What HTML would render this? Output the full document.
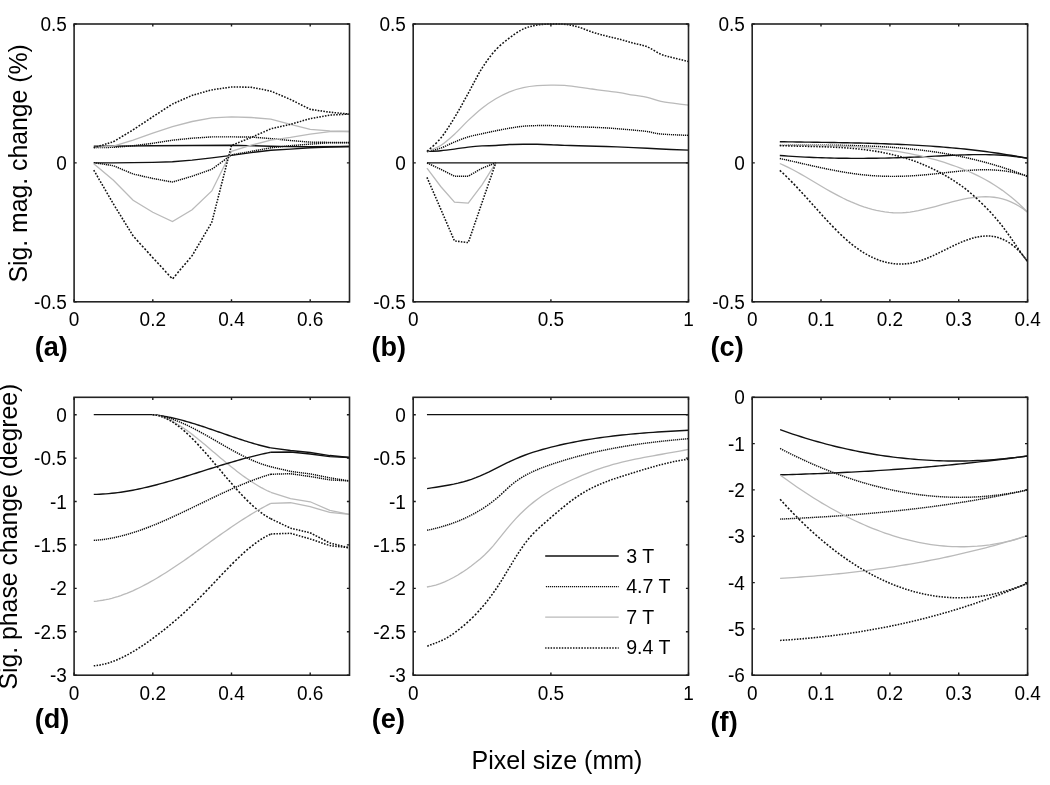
<!DOCTYPE html><html><head><meta charset="utf-8"><style>html,body{margin:0;padding:0;background:#fff;width:1050px;height:785px;overflow:hidden}svg{display:block;will-change:transform}text{font-family:"Liberation Sans",sans-serif;fill:#000}</style></head><body>
<svg width="1050" height="785" viewBox="0 0 1050 785">
<path d="M93.77 146.23L113.44 146.09L152.79 145.79L192.13 145.45L231.47 145.20L270.81 146.23L290.49 146.65L310.16 146.79L349.50 146.51" style="stroke:#111;stroke-width:1.4;fill:none"/>
<path d="M93.77 147.62L94.95 147.60M95.74 147.59L97.02 147.58M97.80 147.56L98.98 147.55M99.77 147.54L100.95 147.52M101.74 147.51L103.02 147.49M103.80 147.48L104.98 147.46M105.77 147.45L106.95 147.43M107.74 147.42L109.02 147.41M109.80 147.39L110.98 147.38M111.77 147.37L112.95 147.35M113.74 147.32L115.02 147.22M115.80 147.16L116.98 147.06M117.77 147.00L118.95 146.91M119.74 146.85L121.02 146.74M121.80 146.68L122.98 146.59M123.77 146.53L124.95 146.43M125.74 146.37L127.02 146.27M127.80 146.21L128.98 146.11M129.77 146.05L130.95 145.96M131.74 145.90L133.02 145.80M133.80 145.70L134.98 145.55M135.77 145.45L136.95 145.30M137.74 145.20L139.02 145.04M139.80 144.94L140.98 144.79M141.77 144.69L142.95 144.54M143.74 144.44L145.02 144.27M145.80 144.17L146.98 144.02M147.77 143.92L148.95 143.77M149.74 143.67L151.02 143.51M151.80 143.41L152.98 143.26M153.77 143.13L154.95 142.95M155.74 142.82L157.02 142.62M157.80 142.50L158.98 142.32M159.77 142.19L160.95 142.01M161.74 141.88L163.01 141.68M163.80 141.56L164.98 141.38M165.77 141.25L166.95 141.07M167.74 140.94L169.01 140.74M169.80 140.62L170.98 140.44M171.77 140.31L172.95 140.15M173.74 140.07L175.01 139.94M175.80 139.86L176.98 139.74M177.77 139.66L178.95 139.54M179.74 139.46L181.01 139.33M181.80 139.25L182.98 139.13M183.77 139.05L184.95 138.93M185.74 138.85L187.01 138.72M187.80 138.64L188.98 138.52M189.77 138.44L190.95 138.32M191.74 138.24L193.01 138.14M193.80 138.09L194.98 138.01M195.77 137.96L196.95 137.88M197.73 137.83L199.01 137.75M199.80 137.69L200.98 137.62M201.77 137.56L202.95 137.49M203.73 137.43L205.01 137.35M205.80 137.30L206.98 137.22M207.77 137.17L208.95 137.09M209.73 137.04L211.01 136.95M211.80 136.90L212.98 136.89M213.77 136.89L214.95 136.89M215.73 136.89L217.01 136.88M217.80 136.88L218.98 136.88M219.77 136.88L220.95 136.87M221.73 136.87L223.01 136.87M223.80 136.86L224.98 136.86M225.77 136.86L226.95 136.86M227.73 136.85L229.01 136.85M229.80 136.85L230.98 136.84M231.77 136.85L232.95 136.86M233.73 136.87L235.01 136.89M235.80 136.90L236.98 136.91M237.77 136.92L238.95 136.94M239.73 136.95L241.01 136.96M241.80 136.97L242.98 136.99M243.77 137.00L244.95 137.01M245.73 137.02L247.01 137.04M247.80 137.05L248.98 137.06M249.77 137.07L250.95 137.09M251.73 137.14L253.01 137.23M253.80 137.29L254.98 137.38M255.77 137.44L256.95 137.53M257.73 137.59L259.01 137.69M259.80 137.75L260.98 137.84M261.77 137.90L262.95 137.99M263.73 138.05L265.01 138.15M265.80 138.21L266.98 138.30M267.77 138.36L268.95 138.45M269.73 138.51L271.01 138.61M271.80 138.69L272.98 138.80M273.76 138.88L274.95 139.00M275.73 139.07L277.01 139.20M277.80 139.27L278.98 139.39M279.76 139.46L280.95 139.58M281.73 139.66L283.01 139.78M283.80 139.86L284.98 139.97M285.76 140.05L286.94 140.16M287.73 140.24L289.01 140.37M289.80 140.44L290.98 140.55M291.76 140.61L292.94 140.71M293.73 140.78L295.01 140.88M295.80 140.94L296.98 141.04M297.76 141.11L298.94 141.20M299.73 141.27L301.01 141.37M301.80 141.44L302.98 141.53M303.76 141.60L304.94 141.69M305.73 141.76L307.01 141.86M307.80 141.93L308.98 142.02M309.76 142.09L310.94 142.13M311.73 142.14L313.01 142.16M313.80 142.17L314.98 142.19M315.76 142.20L316.94 142.22M317.73 142.23L319.01 142.25M319.80 142.26L320.98 142.27M321.76 142.28L322.94 142.30M323.73 142.31L325.01 142.33M325.80 142.34L326.98 142.36M327.76 142.37L328.94 142.39M329.73 142.40L331.01 142.41M331.80 142.42L332.98 142.43M333.76 142.44L334.94 142.45M335.73 142.46L337.01 142.47M337.80 142.48L338.98 142.49M339.76 142.50L340.94 142.51M341.73 142.52L343.01 142.53M343.80 142.54L344.98 142.55M345.76 142.56L346.94 142.57M347.73 142.58L349.01 142.59" style="stroke:#111;stroke-width:1.45;fill:none"/>
<path d="M93.77 147.34L113.44 146.23L133.11 140.12L152.79 133.18L172.46 126.51L192.13 121.51L211.80 117.90L231.47 116.92L251.14 117.51L270.81 119.20L290.49 124.26L310.16 129.40L329.83 130.90L349.50 131.51" style="stroke:#bababa;stroke-width:1.3;fill:none"/>
<path d="M93.77 147.79L95.27 147.32M96.58 146.92L98.08 146.46M99.39 146.05L100.89 145.59M102.20 145.18L103.70 144.72M105.01 144.31L106.51 143.85M107.73 143.47L109.23 143.01M110.54 142.60L112.04 142.14M113.35 141.73L114.90 140.83M116.18 140.05L117.63 139.18M119.00 138.35L120.46 137.47M121.74 136.70L123.28 135.77M124.56 135.00L126.10 134.07M127.38 133.30L128.84 132.42M130.21 131.60L131.66 130.72M132.94 129.94L134.51 128.92M135.74 128.10L137.29 127.07M138.61 126.20L140.08 125.22M141.39 124.35L142.87 123.37M144.18 122.50L145.65 121.52M146.97 120.65L148.44 119.67M149.75 118.80L151.31 117.76M152.54 116.95L154.04 115.97M155.38 115.10L156.89 114.12M158.14 113.31L159.65 112.33M160.99 111.46L162.50 110.48M163.75 109.66L165.26 108.68M166.60 107.81L168.10 106.83M169.36 106.02L170.87 105.04M172.21 104.17L173.65 103.49M174.93 102.92L176.48 102.24M177.76 101.68L179.23 101.04M180.60 100.44L182.06 99.80M183.35 99.24L184.90 98.56M186.18 98.00L187.65 97.36M188.93 96.80L190.48 96.12M191.76 95.55L193.28 95.07M194.53 94.72L196.06 94.28M197.41 93.90L198.85 93.50M200.19 93.12L201.63 92.71M202.97 92.33L204.51 91.90M205.75 91.55L207.29 91.11M208.54 90.76L210.07 90.33M211.42 89.95L212.88 89.68M214.16 89.50L215.64 89.29M217.01 89.09L218.49 88.88M219.77 88.69L221.24 88.48M222.62 88.28L224.09 88.07M225.37 87.88L226.85 87.67M228.13 87.49L229.70 87.26M230.98 87.08L232.45 87.01M233.73 87.03L235.31 87.04M236.59 87.06L238.06 87.07M239.34 87.08L240.91 87.10M242.19 87.11L243.67 87.13M244.95 87.14L246.52 87.15M247.80 87.17L249.27 87.18M250.55 87.19L252.10 87.39M253.35 87.64L254.89 87.94M256.13 88.19L257.67 88.49M259.01 88.76L260.45 89.04M261.79 89.31L263.23 89.59M264.58 89.86L266.11 90.16M267.36 90.41L268.90 90.71M270.14 90.96L271.64 91.44M273.01 92.02L274.47 92.64M275.76 93.19L277.31 93.85M278.59 94.39L280.06 95.02M281.34 95.56L282.89 96.22M284.17 96.77L285.64 97.39M287.01 97.97L288.47 98.59M289.75 99.14L291.27 99.85M292.58 100.51L294.07 101.25M295.38 101.91L296.87 102.66M298.18 103.32L299.67 104.07M300.98 104.72L302.46 105.47M303.77 106.13L305.26 106.88M306.57 107.54L308.06 108.29M309.37 108.94L310.85 109.44M312.12 109.63L313.70 109.86M314.98 110.04L316.45 110.26M317.73 110.44L319.30 110.67M320.58 110.86L322.06 111.07M323.34 111.26L324.91 111.49M326.19 111.67L327.66 111.89M328.94 112.07L330.52 112.27M331.80 112.39L333.27 112.53M334.55 112.65L336.03 112.80M337.40 112.93L338.88 113.07M340.16 113.19L341.63 113.33M343.01 113.47L344.48 113.61M345.76 113.73L347.24 113.87M348.61 114.01L349.50 114.09" style="stroke:#111;stroke-width:1.55;fill:none"/>
<path d="M93.77 162.90L113.44 162.90L133.11 162.62L152.79 162.34L172.46 161.79L192.13 160.12L211.80 157.90L231.47 155.40L251.14 152.62L270.81 150.29L290.49 149.09L310.16 147.82L329.83 147.07L349.50 146.51" style="stroke:#111;stroke-width:1.4;fill:none"/>
<path d="M93.77 162.62L94.95 162.81M95.74 162.93L97.02 163.13M97.80 163.25L98.98 163.43M99.77 163.55L100.95 163.74M101.74 163.86L103.02 164.06M103.80 164.18L104.98 164.36M105.77 164.49L106.95 164.67M107.74 164.79L109.02 164.99M109.80 165.11L110.98 165.30M111.77 165.42L112.95 165.60M113.81 165.83L115.00 166.34M115.73 166.65L117.01 167.19M117.74 167.50L118.93 168.00M119.76 168.35L120.95 168.86M121.77 169.21L122.96 169.71M123.78 170.06L124.97 170.56M125.79 170.91L126.98 171.41M127.81 171.76L129.00 172.27M129.73 172.58L131.01 173.12M131.74 173.43L132.93 173.93M133.79 174.16L134.94 174.42M135.80 174.62L136.95 174.88M137.82 175.07L138.97 175.33M139.74 175.51L140.98 175.79M141.75 175.96L143.00 176.25M143.77 176.42L145.01 176.70M145.78 176.87L146.93 177.13M147.80 177.33L148.95 177.59M149.81 177.78L150.96 178.04M151.73 178.22L152.98 178.49M153.75 178.63L154.99 178.86M155.76 179.00L157.01 179.23M157.78 179.37L158.93 179.58M159.79 179.74L160.94 179.95M161.81 180.11L162.96 180.32M163.72 180.47L164.97 180.69M165.74 180.84L166.99 181.06M167.76 181.20L169.00 181.43M169.77 181.57L171.02 181.80M171.79 181.94L172.93 181.93M173.77 181.68L174.99 181.32M175.74 181.10L176.95 180.73M177.80 180.48L179.01 180.12M179.76 179.90L180.98 179.54M181.73 179.32L182.95 178.96M183.79 178.71L185.01 178.35M185.76 178.12L186.98 177.76M187.73 177.54L188.94 177.18M189.79 176.93L191.00 176.57M191.75 176.35L192.97 175.94M193.81 175.64L194.94 175.24M195.78 174.94L197.00 174.51M197.75 174.25L198.97 173.82M199.81 173.52L200.93 173.13M201.78 172.83L202.99 172.40M203.74 172.13L204.96 171.70M205.80 171.41L206.93 171.01M207.77 170.71L208.99 170.28M209.74 170.02L210.96 169.59M211.80 169.29L213.00 168.41M213.81 167.82L214.93 167.00M215.73 166.41L216.94 165.53M217.74 164.94L218.95 164.06M219.75 163.47L220.95 162.59M221.76 162.01L222.96 161.13M223.76 160.54L224.97 159.66M225.77 159.07L226.98 158.19M227.78 157.60L228.98 156.72M229.79 156.13L230.99 155.25M231.77 154.85L232.95 154.64M233.73 154.50L235.01 154.27M235.80 154.13L236.98 153.92M237.77 153.78L238.95 153.57M239.73 153.43L241.01 153.20M241.80 153.06L242.98 152.85M243.77 152.71L244.95 152.50M245.73 152.36L247.01 152.13M247.80 151.99L248.98 151.78M249.77 151.64L250.95 151.43M251.81 151.28L252.97 151.06M253.73 150.92L254.98 150.69M255.75 150.55L257.00 150.32M257.76 150.18L259.01 149.95M259.78 149.81L260.93 149.60M261.79 149.44L262.95 149.23M263.81 149.07L264.96 148.86M265.73 148.72L266.98 148.49M267.74 148.35L268.99 148.12M269.76 147.98L271.01 147.77M271.80 147.68L272.98 147.56M273.76 147.47L274.95 147.34M275.73 147.26L277.01 147.12M277.80 147.04L278.98 146.91M279.76 146.83L280.95 146.70M281.73 146.62L283.01 146.48M283.80 146.39L284.98 146.27M285.76 146.18L286.94 146.06M287.73 145.97L289.01 145.83M289.80 145.75L290.98 145.64M291.76 145.58L292.94 145.48M293.73 145.42L295.01 145.32M295.80 145.26L296.98 145.16M297.76 145.10L298.94 145.01M299.73 144.95L301.01 144.84M301.80 144.78L302.98 144.69M303.76 144.63L304.94 144.53M305.73 144.47L307.01 144.37M307.80 144.31L308.98 144.21M309.76 144.15L310.94 144.07M311.73 144.01L313.01 143.93M313.80 143.87L314.98 143.79M315.76 143.74L316.94 143.66M317.73 143.61L319.01 143.52M319.80 143.47L320.98 143.39M321.76 143.33L322.94 143.25M323.73 143.20L325.01 143.11M325.80 143.06L326.98 142.98M327.76 142.93L328.94 142.85M329.73 142.79L331.01 142.79M331.80 142.79L332.98 142.79M333.76 142.79L334.94 142.79M335.73 142.79L337.01 142.79M337.80 142.79L338.98 142.79M339.76 142.79L340.94 142.79M341.73 142.79L343.01 142.79M343.80 142.79L344.98 142.79M345.76 142.79L346.94 142.79M347.73 142.79L349.01 142.79" style="stroke:#111;stroke-width:1.45;fill:none"/>
<path d="M93.77 163.73L113.44 180.32L133.11 200.26L152.79 212.29L172.46 221.49L192.13 209.79L211.80 190.96L231.47 151.40L251.14 145.20L270.81 140.09L290.49 137.40L310.16 134.06L329.83 131.70L349.50 131.51" style="stroke:#bababa;stroke-width:1.3;fill:none"/>
<path d="M93.77 170.12L94.62 171.58M95.41 172.95L96.26 174.41M97.01 175.70L97.90 177.24M98.65 178.53L99.50 179.99M100.30 181.36L101.14 182.82M101.89 184.11L102.79 185.65M103.53 186.94L104.38 188.40M105.13 189.69L106.02 191.23M106.77 192.52L107.67 194.06M108.41 195.35L109.26 196.81M110.01 198.09L110.90 199.64M111.65 200.93L112.50 202.38M113.29 203.76L114.17 205.19M115.00 206.54L115.93 208.05M116.70 209.31L117.64 210.82M118.41 212.09L119.34 213.60M120.17 214.94L121.10 216.46M121.88 217.72L122.81 219.23M123.59 220.49L124.52 222.01M125.35 223.35L126.28 224.86M127.06 226.13L127.99 227.64M128.77 228.90L129.70 230.41M130.53 231.76L131.41 233.19M132.23 234.53L133.20 236.05M134.36 237.34L135.70 238.81M136.87 240.09L138.28 241.65M139.45 242.94L140.78 244.41M141.95 245.69L143.37 247.25M144.53 248.54L145.87 250.01M147.03 251.29L148.45 252.86M149.62 254.14L150.95 255.61M152.12 256.90L153.54 258.45M154.70 259.71L156.12 261.26M157.29 262.52L158.70 264.07M159.87 265.33L161.20 266.78M162.45 268.14L163.79 269.59M165.04 270.95L166.37 272.40M167.62 273.76L168.96 275.21M170.12 276.48L171.54 278.02M172.70 278.74L173.96 277.23M175.07 275.92L176.34 274.41M177.45 273.09L178.72 271.59M179.75 270.36L181.02 268.86M182.13 267.54L183.40 266.04M184.51 264.72L185.78 263.21M186.89 261.90L188.16 260.39M189.27 259.07L190.46 257.66M191.57 256.34L192.63 254.83M193.39 253.55L194.30 252.01M195.05 250.73L195.96 249.19M196.72 247.91L197.58 246.45M198.38 245.09L199.24 243.63M200.00 242.35L200.91 240.81M201.66 239.53L202.57 237.99M203.33 236.71L204.18 235.26M204.99 233.89L205.85 232.44M206.60 231.15L207.51 229.61M208.27 228.33L209.18 226.79M209.93 225.51L210.79 224.06M211.60 222.69L212.10 221.19M212.42 219.93L212.81 218.38M213.14 217.12L213.53 215.57M213.85 214.32L214.22 212.86M214.57 211.51L214.94 210.06M215.29 208.70L215.66 207.25M216.01 205.89L216.38 204.44M216.72 203.09L217.10 201.64M217.44 200.28L217.81 198.83M218.16 197.47L218.53 196.02M218.85 194.76L219.25 193.21M219.57 191.96L219.97 190.41M220.29 189.15L220.68 187.60M221.00 186.34L221.40 184.79M221.72 183.54L222.12 181.99M222.44 180.73L222.84 179.18M223.16 177.92L223.55 176.37M223.88 175.11L224.25 173.66M224.59 172.31L224.96 170.86M225.31 169.50L225.68 168.05M226.03 166.69L226.40 165.24M226.75 163.89L227.12 162.43M227.46 161.08L227.83 159.63M228.18 158.27L228.55 156.82M228.87 155.56L229.27 154.01M229.59 152.75L229.99 151.21M230.31 149.95L230.70 148.40M231.03 147.14L231.42 145.59M232.57 144.96L234.03 144.37M235.31 143.86L236.87 143.23M238.15 142.72L239.61 142.13M240.99 141.58L242.45 141.00M243.73 140.48L245.29 139.86M246.57 139.34L248.03 138.76M249.31 138.24L250.87 137.62M252.13 137.07L253.65 136.40M254.99 135.81L256.42 135.18M257.76 134.58L259.28 133.91M260.53 133.36L262.05 132.69M263.39 132.09L264.82 131.46M266.16 130.87L267.68 130.20M268.94 129.64L270.46 128.97M271.77 128.60L273.21 128.27M274.56 127.96L276.09 127.61M277.34 127.33L278.87 126.98M280.12 126.70L281.66 126.35M282.91 126.06L284.44 125.72M285.78 125.41L287.22 125.08M288.57 124.78L290.01 124.45M291.33 124.09L292.83 123.65M294.14 123.27L295.64 122.83M296.95 122.44L298.45 122.00M299.76 121.62L301.26 121.18M302.57 120.79L304.07 120.35M305.38 119.97L306.88 119.53M308.19 119.14L309.69 118.70M310.94 118.42L312.42 118.16M313.80 117.92L315.27 117.66M316.55 117.43L318.03 117.17M319.30 116.95L320.88 116.67M322.16 116.44L323.63 116.18M324.91 115.96L326.48 115.68M327.76 115.46L329.24 115.19M330.52 115.06L332.09 114.98M333.37 114.91L334.84 114.84M336.12 114.77L337.70 114.69M338.98 114.63L340.45 114.55M341.73 114.49L343.21 114.41M344.58 114.34L346.06 114.27M347.34 114.20L348.81 114.13" style="stroke:#111;stroke-width:1.55;fill:none"/>
<rect x="74.1" y="24.0" width="275.4" height="277.8" fill="none" stroke="#242424" stroke-width="1.6"/>
<text transform="translate(74.1,326.3) scale(1,1.090)" font-size="19" text-anchor="middle">0</text>
<text transform="translate(152.8,326.3) scale(1,1.090)" font-size="19" text-anchor="middle">0.2</text>
<text transform="translate(231.5,326.3) scale(1,1.090)" font-size="19" text-anchor="middle">0.4</text>
<text transform="translate(310.2,326.3) scale(1,1.090)" font-size="19" text-anchor="middle">0.6</text>
<text transform="translate(66.8,308.8) scale(1,1.090)" font-size="19" text-anchor="end">-0.5</text>
<text transform="translate(66.8,169.9) scale(1,1.090)" font-size="19" text-anchor="end">0</text>
<text transform="translate(66.8,31.0) scale(1,1.090)" font-size="19" text-anchor="end">0.5</text>
<path d="M74.1 301.8v-2.6M74.1 24.0v2.6M152.8 301.8v-2.6M152.8 24.0v2.6M231.5 301.8v-2.6M231.5 24.0v2.6M310.2 301.8v-2.6M310.2 24.0v2.6M74.1 301.8h2.6M349.5 301.8h-2.6M74.1 162.9h2.6M349.5 162.9h-2.6M74.1 24.0h2.6M349.5 24.0h-2.6" stroke="#1c1c1c" stroke-width="1.4" fill="none"/>
<text transform="translate(34.7,356.4) scale(1,1.035)" font-size="27.1" font-weight="bold">(a)</text>
<path d="M426.96 162.90L428.21 163.48M429.01 163.85L430.16 164.38M430.96 164.75L432.20 165.33M433.00 165.70L434.16 166.24M434.96 166.61L436.20 167.19M437.00 167.56L438.15 168.09M438.95 168.46L440.20 169.04M441.00 169.42L442.15 170.01M442.95 170.41L444.19 171.04M444.99 171.44L446.15 172.02M446.95 172.43L448.19 173.05M448.99 173.46L450.14 174.04M450.94 174.44L452.19 175.07M452.99 175.47L454.14 176.06M454.99 176.23L456.17 176.23M456.95 176.23L458.13 176.23M458.92 176.23L460.20 176.23M460.98 176.23L462.16 176.23M462.95 176.23L464.13 176.23M464.92 176.23L466.20 176.23M466.98 176.23L468.16 176.23M468.95 175.83L470.15 175.13M470.93 174.67L472.13 173.97M472.99 173.47L474.20 172.76M474.97 172.31L476.17 171.60M476.95 171.15L478.15 170.44M478.93 169.99L480.13 169.29M480.99 168.78L482.21 168.11M482.94 167.83L484.14 167.37M484.96 167.05L486.15 166.59M486.98 166.28L488.17 165.82M489.00 165.50L490.19 165.05M490.93 164.76L492.12 164.31M492.95 163.99L494.14 163.53M494.96 163.22L495.79 162.90" style="stroke:#111;stroke-width:1.45;fill:none"/>
<path d="M426.96 168.18L440.73 186.51L454.50 202.07L468.26 203.18L482.02 184.85L495.79 162.90" style="stroke:#bababa;stroke-width:1.3;fill:none"/>
<path d="M426.96 177.35L427.63 178.88M428.18 180.15L428.85 181.69M429.40 182.96L430.03 184.40M430.62 185.76L431.25 187.21M431.84 188.57L432.47 190.01M433.06 191.37L433.69 192.82M434.28 194.18L434.91 195.62M435.50 196.98L436.13 198.43M436.72 199.79L437.35 201.23M437.94 202.59L438.57 204.04M439.12 205.30L439.79 206.84M440.34 208.11L441.01 209.65M441.56 210.93L442.22 212.48M442.78 213.76L443.40 215.22M443.99 216.59L444.62 218.05M445.17 219.33L445.84 220.88M446.39 222.16L447.02 223.62M447.61 224.99L448.24 226.45M448.79 227.73L449.46 229.28M450.01 230.56L450.64 232.02M451.23 233.39L451.86 234.85M452.41 236.12L453.08 237.68M453.63 238.95L454.26 240.41M455.28 241.06L456.76 241.24M458.03 241.39L459.61 241.58M460.89 241.74L462.36 241.91M463.64 242.07L465.21 242.26M466.49 242.41L467.97 242.59M468.62 241.59L469.13 240.09M469.59 238.77L470.11 237.26M470.53 236.04L471.05 234.53M471.50 233.22L472.02 231.71M472.47 230.39L472.99 228.89M473.44 227.57L473.93 226.16M474.38 224.84L474.90 223.33M475.35 222.02L475.87 220.51M476.32 219.19L476.84 217.69M477.30 216.37L477.78 214.96M478.24 213.64L478.75 212.13M479.21 210.81L479.73 209.31M480.18 207.99L480.70 206.48M481.15 205.17L481.64 203.75M482.09 202.44L482.61 200.94M483.06 199.63L483.58 198.14M484.03 196.83L484.55 195.33M485.00 194.03L485.52 192.53M485.98 191.22L486.49 189.73M486.95 188.42L487.47 186.92M487.92 185.61L488.44 184.12M488.89 182.81L489.41 181.31M489.86 180.01L490.38 178.51M490.83 177.20L491.35 175.71M491.81 174.40L492.32 172.90M492.78 171.59L493.30 170.10M493.75 168.79L494.27 167.29M494.72 165.98L495.24 164.49M495.69 163.18L495.79 162.90" style="stroke:#111;stroke-width:1.55;fill:none"/>
<path d="M426.96 151.51C429.26 151.38 436.14 151.11 440.73 150.70C445.32 150.30 449.91 149.70 454.50 149.09C459.08 148.49 463.67 147.63 468.26 147.09C472.85 146.56 477.44 146.16 482.02 145.90C486.61 145.64 491.20 145.77 495.79 145.54C500.38 145.31 504.97 144.73 509.56 144.51C514.14 144.29 518.73 144.24 523.32 144.20C527.91 144.17 532.50 144.20 537.09 144.29C541.67 144.37 546.26 144.52 550.85 144.70C555.44 144.89 560.03 145.24 564.62 145.40C569.20 145.56 571.50 145.49 578.38 145.68C585.26 145.86 596.73 146.19 605.91 146.51C615.09 146.83 624.26 147.20 633.44 147.62C642.62 148.04 651.79 148.59 660.97 149.01C670.15 149.43 683.91 149.94 688.50 150.12" style="stroke:#111;stroke-width:1.4;fill:none"/>
<path d="M426.96 151.51L428.16 151.24M429.00 151.05L430.13 150.81M430.99 150.63L432.20 150.36M432.99 150.18L434.16 149.91M434.99 149.71L436.19 149.42M436.92 149.23L438.19 148.88M438.98 148.65L440.15 148.29M441.00 148.00L442.15 147.57M442.95 147.25L444.19 146.73M444.99 146.37L446.15 145.85M446.95 145.47L448.19 144.88M448.99 144.50L450.14 143.95M450.94 143.58L452.19 143.00M452.99 142.65L454.14 142.16M454.95 141.82L456.15 141.34M456.97 141.00L458.17 140.53M458.99 140.20L460.18 139.73M461.01 139.41L462.20 138.96M462.94 138.69L464.13 138.26M464.96 137.97L466.15 137.57M466.98 137.30L468.17 136.93M468.92 136.70L470.16 136.36M470.92 136.16L472.15 135.85M473.01 135.65L474.15 135.39M475.00 135.21L476.14 134.97M476.99 134.79L478.13 134.55M478.99 134.38L480.13 134.14M480.98 133.96L482.12 133.71M482.97 133.52L484.21 133.25M484.97 133.09L486.20 132.82M486.96 132.66L488.20 132.39M488.95 132.23L490.19 131.97M490.95 131.81L492.18 131.55M492.94 131.40L494.18 131.14M494.94 130.99L496.17 130.74M496.93 130.58L498.16 130.33M498.92 130.18L500.16 129.93M501.01 129.76L502.15 129.54M503.00 129.37L504.14 129.15M505.00 128.99L506.14 128.78M506.99 128.62L508.13 128.42M508.99 128.27L510.14 128.08M510.93 127.95L512.21 127.74M513.00 127.61L514.18 127.42M514.96 127.30L516.14 127.12M516.93 127.01L518.21 126.83M518.99 126.72L520.17 126.57M520.96 126.48L522.14 126.35M522.93 126.27L524.20 126.15M524.99 126.09L526.17 126.00M526.96 125.95L528.14 125.88M528.92 125.85L530.20 125.79M530.99 125.76L532.17 125.72M532.96 125.70L534.14 125.66M534.92 125.64L536.20 125.61M536.99 125.59L538.17 125.57M538.95 125.55L540.13 125.54M540.92 125.53L542.20 125.52M542.98 125.51L544.16 125.51M544.95 125.51L546.13 125.52M546.92 125.53L548.20 125.54M548.98 125.55L550.16 125.58M550.95 125.59L552.13 125.63M553.01 125.66L554.19 125.70M554.98 125.74L556.16 125.80M556.95 125.84L558.13 125.90M559.01 125.94L560.19 126.01M560.98 126.05L562.16 126.11M562.94 126.15L564.12 126.21M565.00 126.25L566.20 126.30M566.98 126.33L568.15 126.38M568.97 126.41L570.13 126.46M570.99 126.49L572.16 126.54M572.94 126.57L574.15 126.62M575.00 126.65L576.14 126.70M576.97 126.73L578.20 126.78M578.94 126.81L580.17 126.85M580.99 126.88L582.20 126.93M583.01 126.95L584.20 127.00M584.96 127.02L586.21 127.06M587.00 127.09L588.20 127.13M588.96 127.16L590.16 127.20M590.94 127.23L592.16 127.27M592.95 127.30L594.18 127.34M594.98 127.37L596.13 127.42M596.93 127.45L598.17 127.51M598.97 127.54L600.20 127.60M600.99 127.63L602.20 127.69M602.98 127.73L604.16 127.80M604.92 127.84L606.21 127.92M606.99 127.96L608.16 128.04M608.93 128.09L610.14 128.18M611.01 128.24L612.15 128.32M612.94 128.38L614.18 128.48M614.98 128.54L616.13 128.63M616.93 128.69L618.17 128.79M618.96 128.86L620.19 128.96M620.97 129.03L622.18 129.13M622.94 129.20L624.12 129.30M624.92 129.37L626.19 129.48M626.96 129.55L628.18 129.65M628.99 129.73L630.14 129.83M630.99 129.90L632.20 130.01M632.97 130.08L634.16 130.18M634.94 130.25L636.13 130.35M636.92 130.42L638.20 130.53M638.98 130.60L640.12 130.70M640.92 130.77L642.19 130.90M642.94 130.97L644.17 131.11M644.93 131.20L646.16 131.37M647.01 131.48L648.16 131.66M648.96 131.80L650.16 132.05M650.98 132.23L652.13 132.50M652.97 132.70L654.20 132.98M654.94 133.13L656.12 133.36M656.93 133.50L658.18 133.69M659.00 133.79L660.15 133.93M660.97 134.01L662.15 134.11M662.93 134.17L664.13 134.26M665.00 134.32L666.19 134.39M666.99 134.44L668.17 134.50M669.01 134.55L670.15 134.61M671.01 134.65L672.18 134.70M672.96 134.74L674.13 134.79M675.01 134.83L676.18 134.88M676.95 134.92L678.19 134.97M678.94 135.00L680.14 135.05M680.94 135.08L682.15 135.13M682.94 135.16L684.17 135.21M684.97 135.24L686.18 135.29M686.92 135.33L688.15 135.38" style="stroke:#111;stroke-width:1.45;fill:none"/>
<path d="M426.96 151.51C429.26 150.51 436.14 148.41 440.73 145.54C445.32 142.67 449.91 138.48 454.50 134.29C459.08 130.10 463.67 124.75 468.26 120.40C472.85 116.04 477.44 111.78 482.02 108.17C486.61 104.56 491.20 101.46 495.79 98.73C500.38 96.00 504.97 93.64 509.56 91.78C514.14 89.93 518.73 88.63 523.32 87.62C527.91 86.60 532.50 86.09 537.09 85.67C541.67 85.25 546.26 85.16 550.85 85.12C555.44 85.07 560.03 85.07 564.62 85.39C569.20 85.72 573.79 86.46 578.38 87.06C582.97 87.66 587.56 88.36 592.14 89.01C596.73 89.65 601.32 90.33 605.91 90.95C610.50 91.57 615.09 91.99 619.67 92.70C624.26 93.41 628.85 94.43 633.44 95.20C638.03 95.97 642.62 96.28 647.20 97.31C651.79 98.34 656.38 100.38 660.97 101.40C665.56 102.41 670.15 102.76 674.74 103.40C679.32 104.03 686.21 104.90 688.50 105.20" style="stroke:#bababa;stroke-width:1.3;fill:none"/>
<path d="M426.96 151.51L428.51 150.10M429.76 149.00L431.26 147.68M432.59 146.49L434.07 145.13M435.38 143.89L436.86 142.43M438.16 141.10L439.48 139.65M440.59 138.35L441.76 136.88M442.79 135.52L443.90 134.02M444.79 132.76L445.85 131.23M446.73 129.92L447.72 128.42M448.55 127.15L449.54 125.61M450.37 124.30L451.30 122.80M452.07 121.56L453.01 120.04M453.83 118.70L454.74 117.22M455.51 115.94L456.43 114.39M457.15 113.15L458.02 111.65M458.79 110.29L459.61 108.84M460.34 107.54L461.16 106.07M461.88 104.76L462.71 103.27M463.43 101.95L464.25 100.45M464.98 99.13L465.80 97.63M466.52 96.31L467.34 94.83M468.07 93.52L468.88 92.06M469.59 90.75L470.40 89.26M471.11 87.92L471.91 86.40M472.58 85.14L473.39 83.61M474.05 82.35L474.86 80.83M475.52 79.58L476.33 78.07M477.04 76.75L477.90 75.20M478.61 73.92L479.46 72.42M480.22 71.12L481.14 69.60M481.91 68.36L482.86 66.86M483.76 65.49L484.72 64.06M485.62 62.75L486.69 61.22M487.59 59.97L488.76 58.39M489.73 57.10L490.85 55.67M491.90 54.36L493.17 52.83M494.29 51.52L495.64 50.00M496.81 48.74L498.30 47.23M499.60 45.98L501.09 44.63M502.39 43.51L503.88 42.28M505.18 41.24L506.67 40.08M507.97 39.09L509.46 37.96M510.81 36.95L512.31 35.84M513.56 34.93L515.06 33.87M516.40 32.97L517.90 32.00M519.23 31.18L520.65 30.36M521.99 29.65L523.51 28.91M524.74 28.38L526.26 27.79M527.59 27.33L529.11 26.87M530.34 26.53L531.86 26.16M533.19 25.87L534.71 25.56M535.95 25.32L537.48 25.04M538.76 24.84L540.33 24.63M541.61 24.49L543.08 24.36M544.36 24.27L545.93 24.18M547.21 24.12L548.69 24.07M549.97 24.03L551.54 23.98M552.82 23.94L554.29 23.91M555.57 23.90L557.04 23.89M558.42 23.91L559.90 23.94M561.17 24.00L562.65 24.09M564.03 24.22L565.47 24.38M566.80 24.55L568.32 24.79M569.55 25.00L571.07 25.29M572.40 25.56L573.92 25.90M575.15 26.20L576.67 26.59M578.00 26.95L579.48 27.38M580.77 27.81L582.33 28.36M583.61 28.84L585.08 29.41M586.36 29.92L587.92 30.53M589.21 31.02L590.68 31.56M591.96 32.00L593.47 32.48M594.80 32.89L596.32 33.34M597.56 33.69L599.07 34.12M600.40 34.48L601.92 34.89M603.16 35.22L604.68 35.62M606.00 35.97L607.52 36.36M608.76 36.66L610.28 37.02M611.61 37.34L613.12 37.69M614.36 37.98L615.88 38.33M617.21 38.66L618.73 39.03M619.96 39.35L621.48 39.76M622.81 40.13L624.33 40.56M625.56 40.92L627.08 41.36M628.41 41.74L629.93 42.18M631.16 42.53L632.68 42.96M634.01 43.32L635.53 43.69M636.76 43.97L638.28 44.30M639.61 44.59L641.13 44.93M642.36 45.23L643.88 45.64M645.21 46.05L646.73 46.59M647.98 47.11L649.53 47.86M650.82 48.56L652.28 49.41M653.57 50.20L655.12 51.14M656.41 51.92L657.87 52.76M659.16 53.44L660.71 54.17M662.01 54.69L663.53 55.23M664.77 55.63L666.29 56.07M667.62 56.42L669.13 56.80M670.37 57.10L671.89 57.46M673.22 57.78L674.74 58.17M675.97 58.49L677.46 58.86M678.82 59.20L680.29 59.56M681.58 59.86L683.09 60.23M684.38 60.53L685.87 60.88M687.22 61.20L688.50 61.50" style="stroke:#111;stroke-width:1.55;fill:none"/>
<path d="M426.96 162.90L688.50 162.90" style="stroke:#111;stroke-width:1.4;fill:none"/>
<rect x="413.2" y="24.0" width="275.3" height="277.8" fill="none" stroke="#242424" stroke-width="1.6"/>
<text transform="translate(413.2,326.3) scale(1,1.090)" font-size="19" text-anchor="middle">0</text>
<text transform="translate(550.9,326.3) scale(1,1.090)" font-size="19" text-anchor="middle">0.5</text>
<text transform="translate(688.5,326.3) scale(1,1.090)" font-size="19" text-anchor="middle">1</text>
<text transform="translate(405.9,308.8) scale(1,1.090)" font-size="19" text-anchor="end">-0.5</text>
<text transform="translate(405.9,169.9) scale(1,1.090)" font-size="19" text-anchor="end">0</text>
<text transform="translate(405.9,31.0) scale(1,1.090)" font-size="19" text-anchor="end">0.5</text>
<path d="M413.2 301.8v-2.6M413.2 24.0v2.6M550.9 301.8v-2.6M550.9 24.0v2.6M688.5 301.8v-2.6M688.5 24.0v2.6M413.2 301.8h2.6M688.5 301.8h-2.6M413.2 162.9h2.6M688.5 162.9h-2.6M413.2 24.0h2.6M688.5 24.0h-2.6" stroke="#1c1c1c" stroke-width="1.4" fill="none"/>
<text transform="translate(371.5,355.9) scale(1,1.035)" font-size="27.1" font-weight="bold">(b)</text>
<path d="M779.80 141.70L784.00 141.77L788.20 141.84L792.40 141.91L796.60 141.97L800.80 142.03L805.00 142.09L809.20 142.15L813.40 142.21L817.60 142.27L821.80 142.33L826.00 142.40L830.20 142.46L834.40 142.53L838.60 142.60L842.80 142.68L847.00 142.76L851.20 142.84L855.40 142.94L859.60 143.03L863.80 143.14L868.00 143.25L872.20 143.37L876.40 143.49L880.60 143.63L884.80 143.77L889.00 143.93L893.20 144.10L897.40 144.27L901.60 144.46L905.80 144.66L910.00 144.88L914.20 145.10L918.40 145.34L922.60 145.60L926.80 145.87L931.00 146.16L935.20 146.46L939.40 146.78L943.60 147.11L947.80 147.47L952.00 147.84L956.20 148.23L960.40 148.64L964.60 149.07L968.80 149.52L973.00 149.99L977.20 150.49L981.40 151.00L985.60 151.54L989.80 152.10L994.00 152.69L998.20 153.30L1002.40 153.94L1006.60 154.60L1010.80 155.28L1015.00 156.00L1019.20 156.74L1023.40 157.51L1027.60 158.30" style="stroke:#111;stroke-width:1.4;fill:none"/>
<path d="M779.80 155.48L784.00 155.80L788.20 156.09L792.40 156.37L796.60 156.62L800.80 156.86L805.00 157.08L809.20 157.28L813.40 157.46L817.60 157.63L821.80 157.77L826.00 157.90L830.20 158.02L834.40 158.11L838.60 158.19L842.80 158.26L847.00 158.31L851.20 158.34L855.40 158.36L859.60 158.36L863.80 158.35L868.00 158.32L872.20 158.28L876.40 158.23L880.60 158.16L884.80 158.08L889.00 157.98L893.20 157.88L897.40 157.76L901.60 157.62L905.80 157.48L910.00 157.32L914.20 157.16L918.40 156.98L922.60 156.79L926.80 156.59L931.00 156.38L935.20 156.16L939.40 155.95L943.60 155.73L947.80 155.52L952.00 155.32L956.20 155.14L960.40 154.97L964.60 154.83L968.80 154.72L973.00 154.63L977.20 154.59L981.40 154.58L985.60 154.61L989.80 154.70L994.00 154.83L998.20 155.02L1002.40 155.27L1006.60 155.59L1010.80 155.97L1015.00 156.43L1019.20 156.96L1023.40 157.58L1027.60 158.28" style="stroke:#111;stroke-width:1.4;fill:none"/>
<path d="M779.80 158.48L781.01 158.75M781.76 158.91L782.97 159.18M783.81 159.36L785.03 159.63M785.77 159.80L786.99 160.07M787.83 160.26L789.04 160.53M789.79 160.70L791.00 160.97M791.84 161.16L792.96 161.41M793.80 161.61L795.01 161.88M795.76 162.05L796.97 162.33M797.81 162.52L799.03 162.80M799.77 162.97L800.99 163.24M801.83 163.43L803.04 163.71M803.79 163.88L805.00 164.16M805.84 164.35L806.96 164.60M807.80 164.79L809.01 165.06M809.76 165.23L810.97 165.50M811.81 165.69L813.03 165.96M813.77 166.12L814.99 166.39M815.83 166.58L817.04 166.84M817.79 167.01L819.00 167.27M819.84 167.45L820.96 167.69M821.80 167.87L823.01 168.12M823.76 168.28L824.97 168.54M825.81 168.71L827.03 168.96M827.77 169.11L828.99 169.36M829.83 169.53L831.04 169.77M831.79 169.91L833.00 170.15M833.84 170.31L834.96 170.53M835.80 170.68L837.01 170.91M837.76 171.05L838.97 171.27M839.81 171.42L841.03 171.64M841.77 171.77L842.99 171.98M843.83 172.12L845.04 172.32M845.79 172.45L847.00 172.65M847.84 172.78L848.96 172.95M849.80 173.08L851.01 173.27M851.76 173.37L852.97 173.55M853.81 173.66L855.03 173.84M855.77 173.94L856.99 174.09M857.83 174.20L859.04 174.35M859.79 174.45L861.00 174.58M861.84 174.68L862.96 174.80M863.80 174.90L865.01 175.02M865.76 175.09L866.97 175.21M867.81 175.29L869.03 175.39M869.77 175.45L870.99 175.55M871.83 175.61L873.04 175.70M873.79 175.74L875.00 175.82M875.84 175.88L876.96 175.94M877.80 175.98L879.01 176.04M879.76 176.08L880.97 176.13M881.81 176.16L883.03 176.20M883.77 176.23L884.99 176.27M885.83 176.28L887.04 176.31M887.79 176.32L889.00 176.34M889.84 176.35L890.96 176.35M891.80 176.36L893.01 176.37M893.76 176.36L894.97 176.35M895.81 176.35L897.03 176.34M897.77 176.33L898.99 176.30M899.83 176.28L901.04 176.26M901.79 176.24L903.00 176.20M903.84 176.17L904.96 176.13M905.80 176.10L907.01 176.05M907.76 176.02L908.97 175.96M909.81 175.92L911.03 175.85M911.77 175.81L912.99 175.74M913.83 175.69L915.04 175.62M915.79 175.57L917.00 175.48M917.84 175.43L918.96 175.34M919.80 175.28L921.01 175.18M921.76 175.12L922.97 175.02M923.81 174.95L925.03 174.84M925.77 174.77L926.99 174.66M927.83 174.58L929.04 174.46M929.79 174.39L931.00 174.27M931.84 174.18L932.96 174.06M933.80 173.98L935.01 173.85M935.76 173.77L936.97 173.63M937.81 173.54L939.03 173.41M939.77 173.32L940.99 173.19M941.83 173.09L943.04 172.96M943.79 172.87L945.00 172.74M945.84 172.64L946.96 172.51M947.80 172.42L949.01 172.29M949.76 172.20L950.97 172.07M951.81 171.98L953.03 171.85M953.77 171.77L954.99 171.64M955.83 171.55L957.04 171.43M957.79 171.35L959.00 171.23M959.84 171.15L960.96 171.04M961.80 170.97L963.01 170.86M963.76 170.79L964.97 170.69M965.81 170.62L967.03 170.53M967.77 170.47L968.99 170.38M969.83 170.32L971.04 170.24M971.79 170.20L973.00 170.12M973.84 170.08L974.96 170.02M975.80 169.98L977.01 169.92M977.76 169.90L978.97 169.86M979.81 169.84L981.03 169.80M981.77 169.79L982.99 169.78M983.83 169.77L985.04 169.76M985.79 169.76L987.00 169.77M987.84 169.79L988.96 169.80M989.80 169.82L991.01 169.86M991.76 169.89L992.97 169.94M993.81 169.98L995.03 170.05M995.77 170.11L996.99 170.19M997.83 170.25L999.04 170.35M999.79 170.43L1001.00 170.55M1001.84 170.63L1002.96 170.76M1003.80 170.87L1005.01 171.03M1005.76 171.12L1006.97 171.30M1007.81 171.44L1009.03 171.64M1009.77 171.76L1010.99 171.97M1011.83 172.14L1013.04 172.39M1013.79 172.54L1015.00 172.79M1015.84 172.99L1016.96 173.26M1017.80 173.47L1019.01 173.76M1019.76 173.97L1020.97 174.31M1021.81 174.55L1023.03 174.90M1023.77 175.13L1024.99 175.53M1025.83 175.80L1027.04 176.20" style="stroke:#111;stroke-width:1.45;fill:none"/>
<path d="M779.80 145.41L781.01 145.40M781.76 145.39L782.97 145.38M783.81 145.37L785.03 145.36M785.77 145.36L786.99 145.35M787.83 145.34L789.04 145.33M789.79 145.32L791.00 145.32M791.84 145.31L792.96 145.30M793.80 145.29L795.01 145.28M795.76 145.28L796.97 145.27M797.81 145.26L799.03 145.26M799.77 145.25L800.99 145.24M801.83 145.24L803.04 145.23M803.79 145.23L805.00 145.22M805.84 145.22L806.96 145.21M807.80 145.21L809.01 145.20M809.76 145.20L810.97 145.19M811.81 145.19L813.03 145.19M813.77 145.19L814.99 145.18M815.83 145.18L817.04 145.18M817.79 145.18L819.00 145.18M819.84 145.18L820.96 145.18M821.80 145.18L823.01 145.18M823.76 145.19L824.97 145.19M825.81 145.19L827.03 145.20M827.77 145.20L828.99 145.21M829.83 145.21L831.04 145.22M831.79 145.22L833.00 145.23M833.84 145.24L834.96 145.25M835.80 145.26L837.01 145.27M837.76 145.28L838.97 145.29M839.81 145.30L841.03 145.32M841.77 145.33L842.99 145.35M843.83 145.36L845.04 145.38M845.79 145.40L847.00 145.42M847.84 145.43L848.96 145.46M849.80 145.47L851.01 145.50M851.76 145.52L852.97 145.55M853.81 145.57L855.03 145.60M855.77 145.62L856.99 145.65M857.83 145.67L859.04 145.71M859.79 145.73L861.00 145.77M861.84 145.80L862.96 145.84M863.80 145.86L865.01 145.91M865.76 145.94L866.97 145.98M867.81 146.01L869.03 146.06M869.77 146.10L870.99 146.15M871.83 146.18L873.04 146.24M873.79 146.27L875.00 146.33M875.84 146.37L876.96 146.43M877.80 146.47L879.01 146.53M879.76 146.57L880.97 146.64M881.81 146.69L883.03 146.76M883.77 146.80L884.99 146.88M885.83 146.93L887.04 147.01M887.79 147.05L889.00 147.13M889.84 147.19L890.96 147.27M891.80 147.33L893.01 147.41M893.76 147.47L894.97 147.56M895.81 147.63L897.03 147.72M897.77 147.78L898.99 147.88M899.83 147.95L901.04 148.05M901.79 148.11L903.00 148.22M903.84 148.30L904.96 148.40M905.80 148.47L907.01 148.59M907.76 148.66L908.97 148.78M909.81 148.86L911.03 148.99M911.77 149.06L912.99 149.19M913.83 149.28L915.04 149.41M915.79 149.49L917.00 149.63M917.84 149.72L918.96 149.85M919.80 149.95L921.01 150.10M921.76 150.19L922.97 150.34M923.81 150.44L925.03 150.60M925.77 150.69L926.99 150.85M927.83 150.96L929.04 151.13M929.79 151.23L931.00 151.39M931.84 151.51L932.96 151.67M933.80 151.80L935.01 151.97M935.76 152.08L936.97 152.27M937.81 152.40L939.03 152.58M939.77 152.70L940.99 152.90M941.83 153.03L943.04 153.23M943.79 153.35L945.00 153.56M945.84 153.70L946.96 153.89M947.80 154.04L949.01 154.26M949.76 154.39L950.97 154.61M951.81 154.76L953.03 154.99M953.77 155.13L954.99 155.36M955.83 155.52L957.04 155.76M957.79 155.91L959.00 156.16M959.84 156.32L960.96 156.55M961.80 156.73L963.01 156.99M963.76 157.14L964.97 157.40M965.81 157.59L967.03 157.86M967.77 158.02L968.99 158.29M969.83 158.48L971.04 158.77M971.79 158.94L973.00 159.22M973.84 159.42L974.96 159.69M975.80 159.90L977.01 160.19M977.76 160.38L978.97 160.69M979.81 160.90L981.03 161.21M981.77 161.40L982.99 161.72M983.83 161.95L985.04 162.27M985.79 162.47L987.00 162.80M987.84 163.04L988.96 163.35M989.80 163.58L991.01 163.93M991.76 164.14L992.97 164.49M993.81 164.74L995.03 165.10M995.77 165.32L996.99 165.69M997.83 165.94L999.04 166.32M999.79 166.55L1001.00 166.93M1001.84 167.19L1002.96 167.55M1003.80 167.82L1005.01 168.22M1005.76 168.46L1006.97 168.86M1007.81 169.15L1009.03 169.56M1009.77 169.81L1010.99 170.22M1011.83 170.52L1013.04 170.95M1013.79 171.21L1015.00 171.64M1015.84 171.94L1016.96 172.35M1017.80 172.66L1019.01 173.10M1019.76 173.38L1020.97 173.84M1021.81 174.16L1023.03 174.62M1023.82 174.93L1025.00 175.39M1025.84 175.72L1027.01 176.18" style="stroke:#111;stroke-width:1.45;fill:none"/>
<path d="M779.80 163.50L784.00 165.36L788.20 167.38L792.40 169.52L796.60 171.78L800.80 174.13L805.00 176.55L809.20 179.01L813.40 181.51L817.60 184.01L821.80 186.50L826.00 188.95L830.20 191.35L834.40 193.68L838.60 195.91L842.80 198.04L847.00 200.05L851.20 201.94L855.40 203.70L859.60 205.33L863.80 206.82L868.00 208.16L872.20 209.35L876.40 210.37L880.60 211.23L884.80 211.92L889.00 212.42L893.20 212.74L897.40 212.86L901.60 212.78L905.80 212.50L910.00 212.03L914.20 211.40L918.40 210.62L922.60 209.72L926.80 208.73L931.00 207.66L935.20 206.53L939.40 205.37L943.60 204.20L947.80 203.04L952.00 201.91L956.20 200.84L960.40 199.84L964.60 198.95L968.80 198.17L973.00 197.53L977.20 197.06L981.40 196.78L985.60 196.70L989.80 196.85L994.00 197.25L998.20 197.93L1002.40 198.91L1006.60 200.20L1010.80 201.83L1015.00 203.82L1019.20 206.19L1023.40 208.97L1027.60 212.18" style="stroke:#bababa;stroke-width:1.3;fill:none"/>
<path d="M779.80 145.39L784.00 145.40L788.20 145.40L792.40 145.40L796.60 145.41L800.80 145.43L805.00 145.45L809.20 145.48L813.40 145.52L817.60 145.57L821.80 145.64L826.00 145.73L830.20 145.83L834.40 145.95L838.60 146.10L842.80 146.27L847.00 146.46L851.20 146.69L855.40 146.94L859.60 147.22L863.80 147.53L868.00 147.88L872.20 148.27L876.40 148.70L880.60 149.16L884.80 149.67L889.00 150.22L893.20 150.82L897.40 151.46L901.60 152.16L905.80 152.90L910.00 153.70L914.20 154.55L918.40 155.46L922.60 156.43L926.80 157.46L931.00 158.55L935.20 159.71L939.40 160.93L943.60 162.22L947.80 163.58L952.00 165.01L956.20 166.51L960.40 168.09L964.60 169.76L968.80 171.52L973.00 173.39L977.20 175.38L981.40 177.49L985.60 179.74L989.80 182.15L994.00 184.71L998.20 187.44L1002.40 190.35L1006.60 193.45L1010.80 196.76L1015.00 200.27L1019.20 204.01L1023.40 207.98L1027.60 212.19" style="stroke:#bababa;stroke-width:1.3;fill:none"/>
<path d="M779.80 170.35L781.29 171.72M782.60 172.92L784.09 174.28M785.40 175.55L786.89 176.99M788.20 178.26L789.69 179.76M791.00 181.09L792.48 182.59M793.69 183.86L795.15 185.38M796.36 186.65L797.73 188.12M798.94 189.42L800.40 190.98M801.53 192.22L802.90 193.72M804.11 195.05L805.48 196.57M806.62 197.82L807.99 199.35M809.20 200.70L810.49 202.14M811.70 203.50L813.00 204.94M814.21 206.30L815.50 207.74M816.71 209.10L818.00 210.54M819.22 211.88L820.51 213.32M821.72 214.66L823.09 216.17M824.30 217.49L825.68 219.00M826.81 220.22L828.26 221.77M829.47 223.07L830.85 224.52M832.14 225.87L833.59 227.38M834.84 228.66L836.33 230.16M837.64 231.47L839.12 232.94M840.44 234.20L841.92 235.63M843.24 236.86L844.72 238.21M846.04 239.40L847.53 240.72M848.84 241.83L850.33 243.09M851.58 244.13L853.11 245.32M854.45 246.36L855.88 247.44M857.21 248.40L858.74 249.48M860.02 250.37L861.53 251.34M862.79 252.15L864.30 253.09M865.65 253.87L867.08 254.69M868.42 255.43L869.93 256.20M871.19 256.84L872.70 257.57M874.05 258.16L875.48 258.78M876.77 259.33L878.36 259.91M879.57 260.36L881.16 260.91M882.37 261.27L883.96 261.74M885.17 262.08L886.76 262.44M887.97 262.72L889.56 263.04M890.77 263.24L892.36 263.49M893.57 263.66L895.16 263.80M896.37 263.90L897.96 264.00M899.17 264.02L900.76 264.05M901.97 264.05L903.56 263.96M904.77 263.89L906.36 263.77M907.57 263.62L909.16 263.42M910.37 263.24L911.96 262.93M913.17 262.69L914.76 262.33M915.97 262.01L917.56 261.58M918.77 261.24L920.36 260.71M921.57 260.31L923.16 259.76M924.37 259.30L925.96 258.69M927.22 258.19L928.73 257.55M929.99 257.01L931.50 256.35M932.85 255.74L934.28 255.08M935.62 254.46L937.13 253.73M938.39 253.13L939.90 252.39M941.25 251.73L942.68 251.03M944.02 250.36L945.53 249.61M946.79 248.99L948.30 248.24M949.65 247.58L951.08 246.88M952.42 246.23L953.93 245.51M955.19 244.92L956.70 244.21M958.05 243.61L959.48 242.98M960.82 242.39L962.33 241.77M963.59 241.25L965.16 240.63M966.37 240.19L967.96 239.61M969.17 239.19L970.76 238.70M971.97 238.33L973.56 237.88M974.77 237.58L976.36 237.20M977.57 236.93L979.16 236.67M980.37 236.47L981.96 236.25M983.17 236.15L984.76 236.02M985.97 235.96L987.56 235.98M988.77 236.00L990.36 236.08M991.57 236.23L993.16 236.42M994.37 236.61L995.96 236.98M997.17 237.27L998.76 237.71M999.97 238.15L1001.56 238.72M1002.82 239.23L1004.33 239.98M1005.59 240.60L1007.10 241.42M1008.45 242.28L1009.88 243.19M1011.18 244.09L1012.71 245.30M1014.05 246.36L1015.53 247.62M1016.84 248.88L1018.33 250.31M1019.60 251.61L1020.90 253.07M1022.03 254.35L1023.40 255.91M1024.38 257.19L1025.50 258.67M1026.47 259.96L1027.60 261.44" style="stroke:#111;stroke-width:1.55;fill:none"/>
<path d="M779.80 145.59L781.29 145.65M782.60 145.70L784.09 145.75M785.40 145.79L786.89 145.84M788.20 145.89L789.69 145.93M791.00 145.97L792.49 146.01M793.80 146.04L795.29 146.08M796.60 146.12L798.09 146.15M799.40 146.18L800.89 146.22M802.20 146.25L803.69 146.28M805.00 146.31L806.49 146.35M807.80 146.38L809.29 146.41M810.60 146.44L812.09 146.48M813.40 146.51L814.89 146.55M816.20 146.58L817.69 146.62M819.00 146.66L820.49 146.70M821.80 146.74L823.29 146.79M824.60 146.83L826.09 146.88M827.40 146.93L828.89 146.99M830.20 147.04L831.69 147.10M833.00 147.16L834.49 147.22M835.80 147.29L837.29 147.37M838.60 147.43L840.09 147.52M841.40 147.60L842.89 147.69M844.20 147.77L845.69 147.88M847.00 147.96L848.49 148.08M849.80 148.18L851.29 148.30M852.60 148.41L854.09 148.55M855.40 148.66L856.89 148.81M858.20 148.94L859.69 149.10M861.00 149.24L862.49 149.41M863.80 149.56L865.29 149.75M866.60 149.92L868.09 150.11M869.40 150.30L870.89 150.51M872.20 150.69L873.69 150.93M875.00 151.14L876.49 151.38M877.80 151.60L879.29 151.87M880.60 152.10L882.09 152.38M883.40 152.64L884.89 152.93M886.20 153.20L887.69 153.52M889.00 153.80L890.49 154.14M891.80 154.45L893.29 154.80M894.60 155.13L896.09 155.50M897.40 155.83L898.89 156.24M900.20 156.60L901.69 157.02M903.00 157.41L904.49 157.85M905.80 158.24L907.29 158.72M908.60 159.14L910.09 159.62M911.40 160.07L912.89 160.59M914.20 161.04L915.69 161.60M917.00 162.09L918.48 162.64M919.83 163.18L921.34 163.78M922.60 164.29L924.11 164.93M925.37 165.47L926.88 166.12M928.23 166.73L929.74 167.42M931.00 167.99L932.51 168.73M933.77 169.34L935.28 170.08M936.63 170.77L938.14 171.55M939.40 172.20L940.91 173.03M942.17 173.73L943.68 174.56M945.03 175.34L946.54 176.22M947.80 176.95L949.31 177.88M950.57 178.66L952.10 179.60M953.43 180.47L954.86 181.40M956.20 182.27L957.73 183.32M958.97 184.17L960.50 185.22M961.83 186.20L963.26 187.25M964.60 188.23L966.13 189.43M967.37 190.41L968.89 191.61M970.20 192.72L971.69 193.98M973.00 195.10L974.49 196.46M975.80 197.66L977.29 199.02M978.60 200.28L980.09 201.71M981.40 202.96L982.89 204.44M984.20 205.75L985.68 207.22M986.97 208.57L988.35 210.00M989.64 211.35L991.01 212.85M992.22 214.18L993.52 215.60M994.73 216.98L995.94 218.40M997.07 219.72L998.35 221.23M999.40 222.54L1000.60 224.03M1001.65 225.34L1002.85 226.87M1003.82 228.16L1004.95 229.65M1005.92 230.94L1007.02 232.43M1007.93 233.71L1008.98 235.19M1009.96 236.57L1011.00 238.05M1011.85 239.31L1012.90 240.86M1013.75 242.13L1014.80 243.68M1015.66 244.95L1016.64 246.41M1017.56 247.78L1018.54 249.24M1019.41 250.51L1020.46 252.00M1021.44 253.39L1022.49 254.87M1023.40 256.16L1024.52 257.59M1025.58 258.93L1026.77 260.46" style="stroke:#111;stroke-width:1.55;fill:none"/>
<rect x="752.2" y="24.0" width="275.4" height="277.8" fill="none" stroke="#242424" stroke-width="1.6"/>
<text transform="translate(752.2,326.3) scale(1,1.090)" font-size="19" text-anchor="middle">0</text>
<text transform="translate(821.0,326.3) scale(1,1.090)" font-size="19" text-anchor="middle">0.1</text>
<text transform="translate(889.9,326.3) scale(1,1.090)" font-size="19" text-anchor="middle">0.2</text>
<text transform="translate(958.7,326.3) scale(1,1.090)" font-size="19" text-anchor="middle">0.3</text>
<text transform="translate(1027.6,326.3) scale(1,1.090)" font-size="19" text-anchor="middle">0.4</text>
<text transform="translate(744.9,308.8) scale(1,1.090)" font-size="19" text-anchor="end">-0.5</text>
<text transform="translate(744.9,169.9) scale(1,1.090)" font-size="19" text-anchor="end">0</text>
<text transform="translate(744.9,31.0) scale(1,1.090)" font-size="19" text-anchor="end">0.5</text>
<path d="M752.2 301.8v-2.6M752.2 24.0v2.6M821.0 301.8v-2.6M821.0 24.0v2.6M889.9 301.8v-2.6M889.9 24.0v2.6M958.7 301.8v-2.6M958.7 24.0v2.6M1027.6 301.8v-2.6M1027.6 24.0v2.6M752.2 301.8h2.6M1027.6 301.8h-2.6M752.2 162.9h2.6M1027.6 162.9h-2.6M752.2 24.0h2.6M1027.6 24.0h-2.6" stroke="#1c1c1c" stroke-width="1.4" fill="none"/>
<text transform="translate(710.6,356.4) scale(1,1.035)" font-size="27.1" font-weight="bold">(c)</text>
<path d="M93.77 414.67L113.44 414.67L133.11 414.67L152.79 414.67" style="stroke:#111;stroke-width:1.4;fill:none"/>
<path d="M152.79 414.66L154.79 414.87L156.79 415.11L158.79 415.38L160.79 415.68L162.79 416.00L164.79 416.35L166.79 416.72L168.79 417.11L170.79 417.53L172.79 417.96L174.79 418.42L176.79 418.90L178.79 419.40L180.79 419.91L182.79 420.44L184.79 420.99L186.79 421.56L188.79 422.14L190.79 422.73L192.80 423.33L194.80 423.95L196.80 424.58L198.80 425.22L200.80 425.87L202.80 426.52L204.80 427.19L206.80 427.86L208.80 428.54L210.80 429.22L212.80 429.91L214.80 430.60L216.80 431.29L218.80 431.99L220.80 432.69L222.80 433.38L224.80 434.08L226.80 434.77L228.80 435.47L230.80 436.15L232.81 436.84L234.81 437.52L236.81 438.19L238.81 438.86L240.81 439.52L242.81 440.17L244.81 440.81L246.81 441.44L248.81 442.06L250.81 442.67L252.81 443.27L254.81 443.85L256.81 444.42L258.81 444.97L260.81 445.51L262.81 446.03L264.81 446.53L266.81 447.01L268.81 447.48L270.81 447.92" style="stroke:#111;stroke-width:1.4;fill:none"/>
<path d="M270.81 447.93L290.49 450.54L310.16 452.53L329.83 455.57L349.50 457.48" style="stroke:#111;stroke-width:1.4;fill:none"/>
<path d="M152.79 414.66L153.99 414.80M154.79 414.89L155.99 415.06M156.79 415.18L157.99 415.38M158.79 415.52L159.99 415.76M160.79 415.92L161.99 416.19M162.79 416.37L163.99 416.66M164.79 416.86L165.99 417.19M166.79 417.41L167.99 417.77M168.79 418.01L169.99 418.39M170.79 418.64L171.99 419.05M172.79 419.33L173.99 419.76M174.79 420.05L175.99 420.51M176.79 420.81L177.99 421.29M178.79 421.61L179.99 422.11M180.79 422.44L181.99 422.96M182.79 423.31L183.99 423.85M184.79 424.21L185.99 424.77M186.79 425.14L187.99 425.71M188.79 426.10L189.99 426.69M190.79 427.08L192.00 427.68M192.80 428.09L194.00 428.71M194.80 429.12L196.00 429.75M196.80 430.17L198.00 430.81M198.80 431.24L200.00 431.89M200.80 432.33L202.00 432.99M202.80 433.43L204.00 434.10M204.80 434.54L206.00 435.22M206.80 435.67L208.00 436.35M208.80 436.81L210.00 437.49M210.80 437.95L212.00 438.64M212.80 439.10L214.00 439.79M214.80 440.25L216.00 440.95M216.80 441.41L218.00 442.10M218.80 442.57L220.00 443.26M220.80 443.72L222.00 444.41M222.80 444.88L224.00 445.56M224.80 446.02L226.00 446.71M226.80 447.16L228.00 447.84M228.80 448.29L230.00 448.97M230.80 449.41L232.00 450.08M232.81 450.52L234.01 451.18M234.81 451.62L236.01 452.26M236.81 452.70L238.01 453.33M238.81 453.75L240.01 454.38M240.81 454.80L242.01 455.41M242.81 455.81L244.01 456.41M244.81 456.81L246.01 457.39M246.81 457.78L248.01 458.34M248.81 458.72L250.01 459.27M250.81 459.63L252.01 460.16M252.81 460.52L254.01 461.03M254.81 461.37L256.01 461.85M256.81 462.18L258.01 462.65M258.81 462.96L260.01 463.40M260.81 463.70L262.01 464.12M262.81 464.40L264.01 464.79M264.81 465.06L266.01 465.43M266.81 465.67L268.01 466.01M268.81 466.24L270.01 466.56" style="stroke:#111;stroke-width:1.45;fill:none"/>
<path d="M270.81 466.78L272.06 467.07M272.83 467.25L273.98 467.52M274.84 467.72L276.00 467.99M276.86 468.19L278.01 468.46M278.78 468.64L280.03 468.93M280.79 469.11L282.04 469.40M282.81 469.58L284.06 469.87M284.82 470.05L285.98 470.32M286.84 470.52L287.99 470.79M288.85 471.00L290.01 471.27M290.78 471.42L292.06 471.58M292.85 471.68L294.03 471.83M294.81 471.93L295.99 472.08M296.78 472.18L298.06 472.35M298.85 472.45L300.03 472.60M300.81 472.70L301.99 472.85M302.78 472.95L304.06 473.12M304.85 473.22L306.03 473.37M306.81 473.47L307.99 473.62M308.78 473.72L310.06 473.88M310.83 474.03L311.98 474.26M312.84 474.43L314.00 474.66M314.86 474.83L316.01 475.06M316.78 475.21L318.03 475.46M318.79 475.61L320.04 475.86M320.81 476.01L322.06 476.26M322.82 476.41L323.98 476.64M324.84 476.81L325.99 477.04M326.85 477.21L328.01 477.44M328.77 477.59L330.03 477.84M330.81 477.96L331.99 478.15M332.78 478.27L334.06 478.48M334.84 478.60L336.03 478.79M336.81 478.91L337.99 479.10M338.78 479.23L340.06 479.43M340.84 479.55L342.02 479.74M342.81 479.87L343.99 480.06M344.78 480.18L346.06 480.38M346.84 480.51L348.02 480.70M348.81 480.82L349.50 480.93" style="stroke:#111;stroke-width:1.45;fill:none"/>
<path d="M152.79 414.64L154.79 414.94L156.79 415.33L158.79 415.81L160.79 416.38L162.79 417.03L164.79 417.77L166.79 418.59L168.79 419.48L170.79 420.45L172.79 421.48L174.79 422.58L176.79 423.74L178.79 424.96L180.79 426.24L182.79 427.56L184.79 428.94L186.79 430.36L188.79 431.82L190.79 433.32L192.80 434.86L194.80 436.43L196.80 438.02L198.80 439.64L200.80 441.29L202.80 442.95L204.80 444.62L206.80 446.31L208.80 448.00L210.80 449.70L212.80 451.40L214.80 453.10L216.80 454.79L218.80 456.48L220.80 458.17L222.80 459.84L224.80 461.50L226.80 463.15L228.80 464.79L230.80 466.41L232.81 468.01L234.81 469.58L236.81 471.14L238.81 472.67L240.81 474.18L242.81 475.65L244.81 477.10L246.81 478.52L248.81 479.90L250.81 481.24L252.81 482.55L254.81 483.81L256.81 485.04L258.81 486.22L260.81 487.36L262.81 488.44L264.81 489.48L266.81 490.47L268.81 491.40L270.81 492.28" style="stroke:#bababa;stroke-width:1.3;fill:none"/>
<path d="M270.81 492.31L290.49 498.65L310.16 501.77L329.83 510.37L349.50 514.28" style="stroke:#bababa;stroke-width:1.3;fill:none"/>
<path d="M152.79 414.65L154.31 414.81M155.59 415.00L157.11 415.28M158.39 415.58L159.91 416.00M161.19 416.40L162.71 416.94M163.99 417.47L165.51 418.13M166.79 418.73L168.31 419.52M169.59 420.23L171.11 421.11M172.39 421.91L173.91 422.90M175.19 423.78L176.71 424.86M177.96 425.80L179.46 426.96M180.79 428.02L182.29 429.27M183.63 430.42L185.13 431.74M186.38 432.87L187.88 434.27M189.21 435.54L190.71 436.99M191.96 438.24L193.46 439.76M194.71 441.04L196.13 442.53M197.38 443.86L198.80 445.38M199.96 446.66L201.30 448.13M202.46 449.43L203.80 450.93M205.01 452.30L206.30 453.77M207.44 455.09L208.73 456.58M209.80 457.83L211.09 459.33M212.23 460.68L213.51 462.19M214.59 463.46L215.87 464.99M216.94 466.26L218.23 467.79M219.30 469.07L220.59 470.60M221.66 471.87L222.95 473.40M224.02 474.67L225.30 476.19M226.37 477.45L227.66 478.96M228.80 480.30L230.09 481.79M231.16 483.03L232.52 484.60M233.66 485.90L234.95 487.36M236.09 488.64L237.47 490.17M238.64 491.46L240.06 493.00M241.22 494.25L242.64 495.75M243.89 497.06L245.39 498.60M246.64 499.86L248.14 501.34M249.48 502.63L250.98 504.05M252.23 505.21L253.73 506.56M255.06 507.73L256.56 509.01M257.81 510.03L259.31 511.23M260.65 512.26L262.17 513.39M263.45 514.29L264.97 515.33M266.25 516.15L267.77 517.07M269.05 517.82L270.57 518.64" style="stroke:#111;stroke-width:1.55;fill:none"/>
<path d="M270.81 518.79L272.33 519.52M273.59 520.12L275.11 520.84M276.45 521.48L277.88 522.16M279.22 522.80L280.74 523.53M281.99 524.12L283.51 524.85M284.85 525.49L286.28 526.17M287.62 526.81L289.14 527.53M290.40 528.13L291.93 528.51M293.17 528.80L294.71 529.16M296.05 529.48L297.49 529.81M298.83 530.13L300.27 530.46M301.62 530.78L303.15 531.14M304.40 531.43L305.93 531.79M307.18 532.08L308.72 532.44M310.06 532.75L311.56 533.50M312.78 534.14L314.35 534.96M315.58 535.60L317.15 536.42M318.38 537.06L319.95 537.88M321.17 538.51L322.75 539.33M323.97 539.97L325.54 540.79M326.86 541.48L328.34 542.25M329.65 542.93L331.08 543.33M332.42 543.65L333.95 544.03M335.20 544.33L336.74 544.70M337.99 545.00L339.52 545.38M340.77 545.68L342.30 546.05M343.65 546.38L345.09 546.73M346.43 547.05L347.87 547.40M349.21 547.73L349.50 547.80" style="stroke:#111;stroke-width:1.55;fill:none"/>
<path d="M93.77 494.39L96.77 494.33L99.77 494.22L102.77 494.06L105.77 493.86L108.78 493.61L111.78 493.32L114.78 492.99L117.78 492.62L120.78 492.20L123.78 491.75L126.78 491.27L129.78 490.75L132.78 490.19L135.78 489.61L138.78 488.99L141.78 488.34L144.78 487.66L147.78 486.96L150.79 486.24L153.79 485.48L156.79 484.71L159.79 483.92L162.79 483.10L165.79 482.27L168.79 481.42L171.79 480.55L174.79 479.67L177.79 478.78L180.79 477.87L183.79 476.96L186.79 476.04L189.79 475.10L192.80 474.17L195.80 473.23L198.80 472.28L201.80 471.34L204.80 470.39L207.80 469.44L210.80 468.50L213.80 467.56L216.80 466.63L219.80 465.70L222.80 464.78L225.80 463.87L228.80 462.97L231.80 462.08L234.81 461.21L237.81 460.35L240.81 459.50L243.81 458.68L246.81 457.87L249.81 457.08L252.81 456.32L255.81 455.58L258.81 454.86L261.81 454.17L264.81 453.50L267.81 452.87L270.81 452.26" style="stroke:#111;stroke-width:1.4;fill:none"/>
<path d="M270.81 452.27L290.49 452.01L310.16 454.01L329.83 456.61L349.50 457.48" style="stroke:#111;stroke-width:1.4;fill:none"/>
<path d="M93.77 540.40L94.97 540.31M95.74 540.26L96.94 540.17M97.80 540.09L99.00 539.98M99.77 539.90L100.97 539.76M101.74 539.67L102.95 539.53M103.80 539.41L105.00 539.24M105.77 539.13L106.97 538.94M107.75 538.82L108.95 538.62M109.80 538.47L111.00 538.25M111.78 538.11L112.98 537.87M113.75 537.71L114.95 537.47M115.81 537.28L117.01 537.01M117.78 536.84L118.98 536.55M119.75 536.37L120.95 536.08M121.81 535.86L123.01 535.55M123.78 535.35L124.98 535.02M125.75 534.81L126.95 534.48M127.81 534.23L129.01 533.88M129.78 533.65L130.98 533.28M131.75 533.05L132.95 532.67M133.81 532.40L135.01 532.01M135.78 531.76L136.98 531.36M137.75 531.10L138.95 530.69M139.81 530.39L141.01 529.97M141.78 529.70L142.98 529.26M143.75 528.98L144.96 528.54M145.81 528.22L147.01 527.76M147.78 527.47L148.98 527.01M149.76 526.71L150.96 526.24M151.81 525.90L152.93 525.45M153.79 525.11L154.99 524.62M155.76 524.30L156.96 523.81M157.73 523.48L158.93 522.98M159.79 522.62L160.99 522.10M161.76 521.77L162.96 521.26M163.73 520.92L164.93 520.39M165.79 520.02L166.99 519.48M167.76 519.14L168.96 518.61M169.73 518.26L170.93 517.71M171.79 517.33L172.99 516.78M173.76 516.42L174.96 515.87M175.73 515.51L176.93 514.96M177.79 514.56L178.99 514.00M179.76 513.63L180.96 513.07M181.74 512.71L182.94 512.14M183.79 511.73L184.99 511.16M185.77 510.79L186.97 510.22M187.74 509.85L188.94 509.27M189.79 508.86L190.99 508.28M191.77 507.91L192.97 507.33M193.74 506.96L194.94 506.38M195.80 505.96L197.00 505.38M197.77 505.01L198.97 504.43M199.74 504.05L200.94 503.47M201.80 503.06L203.00 502.48M203.77 502.10L204.97 501.52M205.74 501.15L206.94 500.57M207.80 500.16L209.00 499.58M209.77 499.21L210.97 498.63M211.74 498.26L212.94 497.69M213.80 497.28L215.00 496.71M215.77 496.34L216.97 495.77M217.74 495.41L218.94 494.84M219.80 494.44L221.00 493.88M221.77 493.52L222.97 492.96M223.75 492.61L224.95 492.05M225.80 491.66L227.00 491.11M227.78 490.76L228.98 490.22M229.75 489.87L230.95 489.33M231.80 488.95L233.01 488.42M233.78 488.08L234.98 487.55M235.75 487.22L236.95 486.70M237.81 486.33L239.01 485.82M239.78 485.49L240.98 484.98M241.75 484.66L242.95 484.16M243.81 483.81L245.01 483.32M245.78 483.01L246.98 482.53M247.75 482.22L248.95 481.75M249.81 481.41L251.01 480.96M251.78 480.66L252.98 480.20M253.75 479.92L254.95 479.47M255.81 479.16L257.01 478.73M257.78 478.45L258.98 478.03M259.75 477.76L260.95 477.35M261.81 477.06L263.01 476.66M263.78 476.41L264.98 476.01M265.76 475.77L266.96 475.39M267.81 475.12L269.01 474.77M269.79 474.54L270.81 474.23" style="stroke:#111;stroke-width:1.45;fill:none"/>
<path d="M270.81 474.24L271.99 474.21M272.78 474.19L274.06 474.16M274.85 474.14L276.03 474.11M276.81 474.08L277.99 474.05M278.78 474.03L280.06 474.00M280.85 473.98L282.03 473.95M282.81 473.93L283.99 473.89M284.78 473.87L286.06 473.84M286.85 473.82L288.03 473.79M288.81 473.77L289.99 473.74M290.78 473.76L292.06 473.94M292.85 474.06L294.03 474.22M294.81 474.33L295.99 474.50M296.78 474.61L298.06 474.79M298.85 474.90L300.03 475.07M300.81 475.18L301.99 475.35M302.78 475.46L304.06 475.64M304.85 475.75L306.03 475.92M306.81 476.03L307.99 476.20M308.78 476.31L310.06 476.49M310.85 476.62L312.03 476.82M312.81 476.96L313.99 477.16M314.78 477.30L316.06 477.52M316.85 477.65L318.03 477.86M318.81 477.99L319.99 478.19M320.78 478.33L322.06 478.55M322.85 478.69L324.03 478.89M324.81 479.02L325.99 479.23M326.78 479.36L328.06 479.58M328.84 479.72L330.03 479.90M330.81 479.94L331.99 480.00M332.78 480.04L334.06 480.11M334.84 480.15L336.03 480.22M336.81 480.26L337.99 480.32M338.78 480.36L340.06 480.43M340.84 480.47L342.02 480.53M342.81 480.58L343.99 480.64M344.78 480.68L346.06 480.75M346.84 480.79L348.02 480.85M348.81 480.89L349.50 480.93" style="stroke:#111;stroke-width:1.45;fill:none"/>
<path d="M93.77 601.36L96.77 601.09L99.77 600.72L102.77 600.26L105.77 599.69L108.78 599.04L111.78 598.29L114.78 597.46L117.78 596.54L120.78 595.54L123.78 594.46L126.78 593.31L129.78 592.08L132.78 590.79L135.78 589.42L138.78 587.99L141.78 586.50L144.78 584.95L147.78 583.35L150.79 581.69L153.79 579.97L156.79 578.22L159.79 576.41L162.79 574.57L165.79 572.68L168.79 570.76L171.79 568.80L174.79 566.81L177.79 564.79L180.79 562.75L183.79 560.69L186.79 558.60L189.79 556.50L192.80 554.38L195.80 552.25L198.80 550.12L201.80 547.97L204.80 545.82L207.80 543.68L210.80 541.53L213.80 539.39L216.80 537.26L219.80 535.14L222.80 533.03L225.80 530.94L228.80 528.86L231.80 526.81L234.81 524.78L237.81 522.78L240.81 520.81L243.81 518.88L246.81 516.98L249.81 515.12L252.81 513.29L255.81 511.52L258.81 509.79L261.81 508.11L264.81 506.48L267.81 504.91L270.81 503.39" style="stroke:#bababa;stroke-width:1.3;fill:none"/>
<path d="M270.81 503.42L290.49 502.73L310.16 506.72L329.83 512.37L349.50 514.28" style="stroke:#bababa;stroke-width:1.3;fill:none"/>
<path d="M93.77 665.83L95.23 665.68M96.60 665.54L98.06 665.33M99.34 665.14L100.89 664.85M102.17 664.60L103.63 664.27M105.00 663.93L106.46 663.54M107.75 663.17L109.29 662.70M110.58 662.27L112.03 661.78M113.40 661.27L114.86 660.72M116.15 660.19L117.69 659.56M118.98 658.99L120.44 658.33M121.81 657.68L123.26 656.98M124.55 656.33L126.09 655.54M127.38 654.85L128.84 654.06M130.21 653.29L131.67 652.45M132.97 651.69L134.47 650.79M135.78 649.99L137.28 649.05M138.59 648.22L140.10 647.24M141.41 646.38L142.91 645.37M144.13 644.55L145.63 643.52M146.94 642.60L148.44 641.54M149.75 640.60L151.25 639.52M152.57 638.56L154.07 637.46M155.38 636.48L156.88 635.35M158.19 634.35L159.69 633.20M161.01 632.18L162.51 631.01M163.73 630.05L165.23 628.85M166.54 627.79L168.04 626.57M169.35 625.50L170.85 624.25M172.17 623.16L173.67 621.88M174.98 620.77L176.48 619.47M177.79 618.33L179.29 617.01M180.54 615.90L182.04 614.56M183.38 613.35L184.88 611.98M186.21 610.75L187.71 609.35M188.96 608.18L190.46 606.76M191.80 605.48L193.30 604.03M194.55 602.81L196.05 601.34M197.38 600.01L198.88 598.51M200.13 597.25L201.63 595.73M202.88 594.46L204.38 592.92M205.63 591.63L207.05 590.16M208.30 588.86L209.80 587.29M211.05 585.99L212.47 584.49M213.63 583.27L215.13 581.68M216.30 580.45L217.72 578.95M218.97 577.63L220.39 576.13M221.64 574.81L223.05 573.32M224.30 572.01L225.72 570.53M226.97 569.24L228.47 567.69M229.72 566.41L231.22 564.88M232.47 563.62L233.97 562.13M235.31 560.81L236.81 559.35M238.06 558.13L239.56 556.71M240.89 555.45L242.39 554.08M243.64 552.93L245.14 551.60M246.48 550.43L247.93 549.19M249.25 548.08L250.75 546.85M252.06 545.80L253.56 544.63M254.87 543.64L256.37 542.53M257.69 541.60L259.19 540.56M260.50 539.70L261.98 538.74M263.27 537.97L264.73 537.09M266.10 536.35L267.56 535.56M268.84 534.94L270.39 534.20" style="stroke:#111;stroke-width:1.55;fill:none"/>
<path d="M270.81 533.99L272.29 533.94M273.57 533.89L275.14 533.84M276.42 533.79L277.90 533.74M279.17 533.70L280.75 533.64M282.03 533.60L283.50 533.54M284.78 533.50L286.35 533.44M287.63 533.40L289.11 533.35M290.39 533.30L291.93 533.71M293.17 534.07L294.71 534.51M296.05 534.89L297.49 535.31M298.83 535.69L300.27 536.11M301.62 536.49L303.15 536.93M304.40 537.29L305.93 537.73M307.18 538.09L308.72 538.53M310.06 538.91L311.47 539.39M312.78 539.83L314.28 540.34M315.59 540.79L317.09 541.30M318.40 541.74L319.90 542.25M321.21 542.70L322.71 543.21M324.02 543.65L325.52 544.16M326.83 544.61L328.33 545.12M329.64 545.57L331.11 545.77M332.39 545.91L333.96 546.09M335.24 546.23L336.71 546.39M337.99 546.53L339.47 546.69M340.84 546.84L342.32 547.01M343.60 547.15L345.07 547.31M346.45 547.46L347.93 547.63M349.20 547.77L349.50 547.80" style="stroke:#111;stroke-width:1.55;fill:none"/>
<rect x="74.1" y="397.3" width="275.4" height="277.9" fill="none" stroke="#242424" stroke-width="1.6"/>
<text transform="translate(74.1,699.7) scale(1,1.090)" font-size="19" text-anchor="middle">0</text>
<text transform="translate(152.8,699.7) scale(1,1.090)" font-size="19" text-anchor="middle">0.2</text>
<text transform="translate(231.5,699.7) scale(1,1.090)" font-size="19" text-anchor="middle">0.4</text>
<text transform="translate(310.2,699.7) scale(1,1.090)" font-size="19" text-anchor="middle">0.6</text>
<text transform="translate(66.8,421.7) scale(1,1.090)" font-size="19" text-anchor="end">0</text>
<text transform="translate(66.8,465.1) scale(1,1.090)" font-size="19" text-anchor="end">-0.5</text>
<text transform="translate(66.8,508.5) scale(1,1.090)" font-size="19" text-anchor="end">-1</text>
<text transform="translate(66.8,551.9) scale(1,1.090)" font-size="19" text-anchor="end">-1.5</text>
<text transform="translate(66.8,595.4) scale(1,1.090)" font-size="19" text-anchor="end">-2</text>
<text transform="translate(66.8,638.8) scale(1,1.090)" font-size="19" text-anchor="end">-2.5</text>
<text transform="translate(66.8,682.2) scale(1,1.090)" font-size="19" text-anchor="end">-3</text>
<path d="M74.1 675.2v-2.6M74.1 397.3v2.6M152.8 675.2v-2.6M152.8 397.3v2.6M231.5 675.2v-2.6M231.5 397.3v2.6M310.2 675.2v-2.6M310.2 397.3v2.6M74.1 414.7h2.6M349.5 414.7h-2.6M74.1 458.1h2.6M349.5 458.1h-2.6M74.1 501.5h2.6M349.5 501.5h-2.6M74.1 544.9h2.6M349.5 544.9h-2.6M74.1 588.4h2.6M349.5 588.4h-2.6M74.1 631.8h2.6M349.5 631.8h-2.6M74.1 675.2h2.6M349.5 675.2h-2.6" stroke="#1c1c1c" stroke-width="1.4" fill="none"/>
<text transform="translate(34.8,728.4) scale(1,1.035)" font-size="27.1" font-weight="bold">(d)</text>
<path d="M426.96 414.67L688.50 414.67" style="stroke:#111;stroke-width:1.4;fill:none"/>
<path d="M427.10 488.59L431.53 487.88L435.96 487.19L440.39 486.51L444.82 485.80L449.25 485.03L453.68 484.17L458.11 483.19L462.54 482.05L466.97 480.75L471.41 479.29L475.84 477.66L480.27 475.89L484.70 473.97L489.13 471.92L493.56 469.73L497.99 467.47L502.42 465.18L506.85 462.94L511.28 460.81L515.71 458.82L520.14 456.98L524.57 455.27L529.00 453.69L533.43 452.21L537.86 450.83L542.29 449.54L546.72 448.33L551.15 447.18L555.58 446.08L560.02 445.04L564.45 444.05L568.88 443.11L573.31 442.21L577.74 441.37L582.17 440.56L586.60 439.80L591.03 439.08L595.46 438.40L599.89 437.75L604.32 437.15L608.75 436.57L613.18 436.03L617.61 435.52L622.04 435.04L626.47 434.58L630.90 434.16L635.33 433.75L639.76 433.37L644.19 433.01L648.63 432.67L653.06 432.34L657.49 432.04L661.92 431.74L666.35 431.46L670.78 431.19L675.21 430.93L679.64 430.68L684.07 430.43L688.50 430.18" style="stroke:#111;stroke-width:1.4;fill:none"/>
<path d="M427.10 530.31L428.34 530.03M429.14 529.86L430.29 529.60M431.09 529.42L432.33 529.13M433.13 528.94L434.28 528.66M435.07 528.47L436.32 528.16M437.11 527.95L438.26 527.64M439.06 527.43L440.30 527.10M441.10 526.87L442.34 526.51M443.14 526.28L444.29 525.95M445.09 525.71L446.33 525.31M447.13 525.06L448.28 524.69M449.08 524.44L450.32 524.01M451.11 523.73L452.27 523.33M453.06 523.05L454.30 522.59M455.10 522.29L456.34 521.82M457.14 521.51L458.29 521.06M459.09 520.73L460.33 520.21M461.13 519.88L462.28 519.40M463.08 519.04L464.32 518.48M465.11 518.11L466.27 517.59M467.06 517.22L468.30 516.60M469.10 516.21L470.34 515.59M471.14 515.19L472.29 514.58M473.10 514.15L474.31 513.49M475.11 513.06L476.32 512.39M477.12 511.91L478.33 511.21M479.14 510.73L480.27 510.07M481.07 509.56L482.28 508.80M483.09 508.28L484.29 507.52M485.10 506.98L486.31 506.15M487.11 505.59L488.32 504.76M489.13 504.20L490.33 503.30M491.07 502.74L492.27 501.84M493.10 501.21L494.30 500.25M495.13 499.56L496.33 498.57M497.07 497.95L498.27 496.94M499.10 496.18L500.30 495.09M501.13 494.34L502.33 493.25M503.10 492.52L504.29 491.39M505.06 490.67L506.34 489.46M507.13 488.73L508.33 487.65M509.06 486.99L510.26 485.91M511.10 485.17L512.29 484.20M513.13 483.55L514.33 482.60M515.06 482.02L516.27 481.12M517.08 480.56L518.29 479.73M519.09 479.18L520.30 478.36M521.11 477.88L522.32 477.15M523.12 476.66L524.33 475.93M525.14 475.49L526.26 474.89M527.07 474.46L528.28 473.82M529.09 473.39L530.33 472.80M531.13 472.42L532.28 471.87M533.08 471.49L534.32 470.93M535.12 470.59L536.27 470.09M537.07 469.74L538.31 469.22M539.10 468.90L540.34 468.41M541.14 468.09L542.29 467.64M543.09 467.34L544.33 466.89M545.13 466.59L546.28 466.17M547.08 465.88L548.32 465.45M549.12 465.17L550.27 464.77M551.07 464.49L552.31 464.07M553.10 463.81L554.34 463.39M555.14 463.13L556.29 462.75M557.09 462.49L558.33 462.10M559.13 461.84L560.28 461.47M561.08 461.23L562.32 460.84M563.12 460.59L564.27 460.24M565.07 460.00L566.31 459.63M567.10 459.39L568.26 459.05M569.14 458.79L570.29 458.46M571.09 458.24L572.33 457.88M573.13 457.65L574.28 457.34M575.08 457.12L576.32 456.78M577.12 456.56L578.27 456.25M579.07 456.04L580.31 455.71M581.10 455.50L582.26 455.20M583.14 454.98L584.29 454.69M585.09 454.49L586.33 454.18M587.13 453.98L588.28 453.70M589.08 453.51L590.32 453.21M591.12 453.02L592.27 452.75M593.07 452.57L594.31 452.28M595.10 452.10L596.26 451.84M597.14 451.65L598.29 451.39M599.09 451.21L600.33 450.94M601.13 450.78L602.28 450.53M603.08 450.36L604.32 450.10M605.12 449.94L606.27 449.71M607.07 449.55L608.31 449.30M609.11 449.14L610.26 448.92M611.14 448.75L612.30 448.52M613.09 448.37L614.33 448.14M615.13 447.99L616.28 447.78M617.08 447.63L618.30 447.42M619.09 447.28L620.27 447.07M621.06 446.93L622.34 446.71M623.13 446.58L624.31 446.38M625.09 446.25L626.28 446.05M627.06 445.92L628.34 445.72M629.13 445.59L630.31 445.40M631.10 445.28L632.28 445.10M633.07 444.98L634.25 444.80M635.14 444.67L636.32 444.49M637.11 444.38L638.29 444.21M639.08 444.10L640.26 443.93M641.14 443.81L642.32 443.64M643.11 443.54L644.29 443.37M645.08 443.27L646.26 443.12M647.15 443.00L648.33 442.84M649.12 442.74L650.30 442.60M651.09 442.50L652.27 442.35M653.06 442.25L654.34 442.10M655.12 442.01L656.30 441.87M657.09 441.78L658.27 441.64M659.06 441.55L660.34 441.41M661.13 441.32L662.31 441.19M663.10 441.10L664.28 440.98M665.07 440.89L666.35 440.75M667.14 440.67L668.32 440.55M669.10 440.47L670.29 440.35M671.07 440.27L672.25 440.16M673.14 440.07L674.32 439.96M675.11 439.88L676.29 439.77M677.08 439.70L678.26 439.59M679.15 439.51L680.33 439.40M681.12 439.33L682.30 439.23M683.08 439.16L684.27 439.05M685.05 438.99L686.33 438.88M687.12 438.81L688.30 438.71" style="stroke:#111;stroke-width:1.45;fill:none"/>
<path d="M426.90 587.00L431.33 586.16L435.77 585.01L440.20 583.55L444.64 581.80L449.07 579.77L453.50 577.48L457.94 574.94L462.37 572.17L466.81 569.18L471.24 565.99L475.67 562.60L480.11 558.97L484.54 554.99L488.97 550.54L493.41 545.57L497.84 540.20L502.28 534.65L506.71 529.13L511.14 523.84L515.58 518.89L520.01 514.29L524.45 510.02L528.88 506.05L533.31 502.38L537.75 498.98L542.18 495.83L546.62 492.93L551.05 490.25L555.48 487.77L559.92 485.47L564.35 483.30L568.78 481.25L573.22 479.28L577.65 477.36L582.09 475.47L586.52 473.62L590.95 471.84L595.39 470.16L599.82 468.60L604.26 467.14L608.69 465.77L613.12 464.49L617.56 463.30L621.99 462.17L626.43 461.12L630.86 460.12L635.29 459.18L639.73 458.28L644.16 457.43L648.59 456.60L653.03 455.80L657.46 455.01L661.90 454.24L666.33 453.46L670.76 452.69L675.20 451.90L679.63 451.09L684.07 450.26L688.50 449.39" style="stroke:#bababa;stroke-width:1.3;fill:none"/>
<path d="M427.30 646.20L428.81 645.59M430.13 645.06L431.64 644.45M432.88 644.00L434.38 643.45M435.71 642.96L437.22 642.38M438.46 641.90L439.96 641.31M441.29 640.73L442.79 640.01M444.12 639.37L445.57 638.62M446.86 637.86L448.39 636.96M449.68 636.18L451.21 635.14M452.49 634.27L453.95 633.27M455.34 632.24L456.81 631.13M458.11 630.16L459.58 628.99M460.87 627.95L462.44 626.68M463.73 625.59L465.21 624.31M466.50 623.20L468.00 621.85M469.27 620.66L470.80 619.23M472.08 618.01L473.61 616.47M474.89 615.18L476.31 613.73M477.58 612.35L478.92 610.89M480.11 609.60L481.45 608.04M482.48 606.83L483.82 605.25M484.93 603.95L486.11 602.45M487.07 601.23L488.25 599.72M489.28 598.41L490.39 596.89M491.35 595.56L492.39 594.13M493.36 592.81L494.43 591.27M495.31 589.96L496.31 588.49M497.19 587.19L498.19 585.72M499.02 584.40L499.96 582.93M500.79 581.62L501.78 580.06M502.56 578.83L503.50 577.29M504.28 575.99L505.22 574.45M506.00 573.16L506.89 571.70M507.68 570.39L508.56 568.92M509.35 567.61L510.28 566.06M511.07 564.75L511.94 563.33M512.77 561.97L513.65 560.53M514.49 559.17L515.37 557.73M516.21 556.40L517.20 554.87M518.03 553.58L518.97 552.12M519.85 550.75L520.82 549.31M521.72 548.03L522.83 546.44M523.73 545.15L524.77 543.68M525.80 542.36L526.98 540.86M528.02 539.55L529.20 538.05M530.31 536.83L531.73 535.25M532.84 534.02L534.32 532.48M535.59 531.23L537.13 529.72M538.44 528.47L539.91 527.14M541.21 525.97L542.68 524.65M543.97 523.54L545.45 522.26M546.83 521.06L548.31 519.79M549.60 518.67L551.07 517.39M552.37 516.28L553.93 514.94M555.23 513.82L556.70 512.57M557.99 511.48L559.47 510.23M560.76 509.15L562.33 507.86M563.62 506.80L565.09 505.60M566.39 504.58L567.86 503.41M569.15 502.40L570.72 501.22M572.01 500.26L573.48 499.16M574.76 498.26L576.29 497.19M577.58 496.30L579.11 495.30M580.40 494.48L581.93 493.50M583.22 492.73L584.66 491.88M586.03 491.09L587.48 490.28M588.77 489.60L590.30 488.78M591.63 488.10L593.05 487.41M594.38 486.76L595.88 486.04M597.21 485.45L598.72 484.78M599.96 484.23L601.46 483.61M602.79 483.07L604.30 482.45M605.62 481.94L607.13 481.37M608.37 480.90L609.87 480.35M611.20 479.88L612.71 479.34M614.04 478.89L615.45 478.41M616.78 477.97L618.29 477.47M619.61 477.04L621.12 476.56M622.36 476.16L623.86 475.69M625.19 475.27L626.70 474.80M628.03 474.39L629.53 473.93M630.77 473.54L632.28 473.08M633.60 472.67L635.11 472.20M636.44 471.79L637.85 471.36M639.18 470.95L640.69 470.49M642.02 470.09L643.52 469.63M644.76 469.26L646.27 468.81M647.59 468.41L649.10 467.97M650.43 467.59L651.93 467.15M653.17 466.79L654.68 466.38M656.00 466.01L657.51 465.59M658.84 465.24L660.25 464.86M661.58 464.51L663.09 464.13M664.42 463.80L665.92 463.42M667.16 463.13L668.67 462.78M669.99 462.48L671.50 462.14M672.83 461.86L674.33 461.54M675.57 461.29L677.08 461.01M678.41 460.76L679.94 460.48M681.22 460.27L682.70 460.03M683.97 459.82L685.45 459.62M686.83 459.43L688.30 459.23" style="stroke:#111;stroke-width:1.55;fill:none"/>
<rect x="413.2" y="397.3" width="275.3" height="277.9" fill="none" stroke="#242424" stroke-width="1.6"/>
<text transform="translate(413.2,699.7) scale(1,1.090)" font-size="19" text-anchor="middle">0</text>
<text transform="translate(550.9,699.7) scale(1,1.090)" font-size="19" text-anchor="middle">0.5</text>
<text transform="translate(688.5,699.7) scale(1,1.090)" font-size="19" text-anchor="middle">1</text>
<text transform="translate(405.9,421.7) scale(1,1.090)" font-size="19" text-anchor="end">0</text>
<text transform="translate(405.9,465.1) scale(1,1.090)" font-size="19" text-anchor="end">-0.5</text>
<text transform="translate(405.9,508.5) scale(1,1.090)" font-size="19" text-anchor="end">-1</text>
<text transform="translate(405.9,551.9) scale(1,1.090)" font-size="19" text-anchor="end">-1.5</text>
<text transform="translate(405.9,595.4) scale(1,1.090)" font-size="19" text-anchor="end">-2</text>
<text transform="translate(405.9,638.8) scale(1,1.090)" font-size="19" text-anchor="end">-2.5</text>
<text transform="translate(405.9,682.2) scale(1,1.090)" font-size="19" text-anchor="end">-3</text>
<path d="M413.2 675.2v-2.6M413.2 397.3v2.6M550.9 675.2v-2.6M550.9 397.3v2.6M688.5 675.2v-2.6M688.5 397.3v2.6M413.2 414.7h2.6M688.5 414.7h-2.6M413.2 458.1h2.6M688.5 458.1h-2.6M413.2 501.5h2.6M688.5 501.5h-2.6M413.2 544.9h2.6M688.5 544.9h-2.6M413.2 588.4h2.6M688.5 588.4h-2.6M413.2 631.8h2.6M688.5 631.8h-2.6M413.2 675.2h2.6M688.5 675.2h-2.6" stroke="#1c1c1c" stroke-width="1.4" fill="none"/>
<text transform="translate(371.8,728.4) scale(1,1.035)" font-size="27.1" font-weight="bold">(e)</text>
<path d="M780.10 429.71L784.29 431.20L788.49 432.65L792.68 434.07L796.88 435.45L801.07 436.79L805.27 438.09L809.46 439.36L813.66 440.59L817.85 441.79L822.05 442.95L826.24 444.07L830.44 445.15L834.63 446.20L838.83 447.21L843.02 448.19L847.22 449.13L851.41 450.03L855.61 450.90L859.80 451.73L864.00 452.53L868.19 453.29L872.39 454.01L876.58 454.70L880.78 455.35L884.97 455.96L889.17 456.54L893.36 457.09L897.56 457.59L901.75 458.07L905.95 458.50L910.14 458.91L914.34 459.27L918.53 459.60L922.73 459.90L926.92 460.16L931.12 460.39L935.31 460.58L939.51 460.73L943.70 460.85L947.90 460.94L952.09 460.99L956.29 461.01L960.48 460.99L964.68 460.93L968.87 460.84L973.07 460.72L977.26 460.56L981.46 460.37L985.65 460.15L989.85 459.88L994.04 459.59L998.24 459.26L1002.43 458.90L1006.63 458.50L1010.82 458.07L1015.02 457.60L1019.21 457.10L1023.41 456.57L1027.60 456.00" style="stroke:#111;stroke-width:1.4;fill:none"/>
<path d="M780.10 474.80L784.29 474.69L788.49 474.58L792.68 474.46L796.88 474.34L801.07 474.20L805.27 474.07L809.46 473.92L813.66 473.77L817.85 473.61L822.05 473.45L826.24 473.28L830.44 473.10L834.63 472.91L838.83 472.72L843.02 472.52L847.22 472.31L851.41 472.10L855.61 471.88L859.80 471.65L864.00 471.42L868.19 471.18L872.39 470.93L876.58 470.67L880.78 470.41L884.97 470.13L889.17 469.85L893.36 469.57L897.56 469.27L901.75 468.97L905.95 468.66L910.14 468.34L914.34 468.02L918.53 467.68L922.73 467.34L926.92 466.99L931.12 466.63L935.31 466.26L939.51 465.89L943.70 465.50L947.90 465.11L952.09 464.71L956.29 464.30L960.48 463.89L964.68 463.46L968.87 463.03L973.07 462.58L977.26 462.13L981.46 461.67L985.65 461.20L989.85 460.72L994.04 460.23L998.24 459.74L1002.43 459.23L1006.63 458.72L1010.82 458.19L1015.02 457.66L1019.21 457.12L1023.41 456.56L1027.60 456.00" style="stroke:#111;stroke-width:1.4;fill:none"/>
<path d="M780.10 448.46L781.27 449.07M782.11 449.50L783.29 450.11M784.13 450.54L785.30 451.14M786.14 451.56L787.32 452.15M788.07 452.54L789.33 453.16M790.08 453.54L791.26 454.12M792.10 454.53L793.27 455.11M794.11 455.52L795.29 456.08M796.12 456.49L797.30 457.05M798.14 457.45L799.31 458.01M800.07 458.36L801.33 458.96M802.08 459.31L803.34 459.89M804.09 460.24L805.27 460.78M806.11 461.16L807.28 461.69M808.12 462.07L809.30 462.60M810.14 462.97L811.31 463.48M812.07 463.81L813.32 464.37M814.08 464.70L815.34 465.24M816.09 465.56L817.27 466.06M818.11 466.42L819.28 466.91M820.12 467.26L821.29 467.75M822.13 468.10L823.31 468.58M824.06 468.88L825.32 469.39M826.08 469.70L827.33 470.20M828.09 470.50L829.26 470.96M830.10 471.29L831.28 471.74M832.12 472.06L833.33 472.53M834.07 472.81L835.29 473.27M836.13 473.58L837.34 474.03M838.08 474.31L839.29 474.75M840.13 475.06L841.35 475.49M842.09 475.76L843.30 476.19M844.14 476.48L845.26 476.87M846.10 477.17L847.31 477.59M848.06 477.84L849.27 478.24M850.11 478.53L851.32 478.93M852.07 479.18L853.28 479.57M854.12 479.84L855.33 480.24M856.07 480.47L857.29 480.85M858.13 481.11L859.34 481.49M860.08 481.72L861.29 482.09M862.13 482.34L863.35 482.70M864.09 482.92L865.30 483.27M866.14 483.52L867.26 483.84M868.10 484.08L869.31 484.42M870.06 484.62L871.27 484.96M872.11 485.19L873.32 485.51M874.07 485.71L875.28 486.03M876.12 486.25L877.33 486.56M878.07 486.75L879.29 487.05M880.13 487.27L881.34 487.56M882.08 487.74L883.29 488.03M884.13 488.23L885.35 488.52M886.09 488.69L887.30 488.96M888.14 489.15L889.26 489.41M890.10 489.59L891.31 489.85M892.06 490.01L893.27 490.27M894.11 490.44L895.32 490.68M896.07 490.83L897.28 491.08M898.12 491.24L899.33 491.47M900.07 491.61L901.29 491.84M902.13 492.00L903.34 492.21M904.08 492.34L905.29 492.56M906.13 492.70L907.35 492.90M908.09 493.02L909.30 493.22M910.14 493.36L911.26 493.53M912.10 493.66L913.31 493.84M914.06 493.95L915.27 494.12M916.11 494.24L917.32 494.41M918.07 494.51L919.28 494.67M920.12 494.77L921.33 494.93M922.07 495.02L923.29 495.17M924.13 495.26L925.34 495.40M926.08 495.48L927.29 495.61M928.13 495.69L929.35 495.82M930.09 495.89L931.30 496.01M932.14 496.08L933.26 496.18M934.10 496.25L935.31 496.35M936.06 496.41L937.27 496.50M938.11 496.56L939.32 496.65M940.07 496.69L941.28 496.77M942.12 496.82L943.33 496.89M944.07 496.93L945.29 496.98M946.13 497.02L947.34 497.08M948.08 497.11L949.29 497.15M950.13 497.18L951.35 497.22M952.09 497.25L953.30 497.27M954.14 497.29L955.26 497.31M956.10 497.32L957.31 497.33M958.06 497.34L959.27 497.35M960.11 497.35L961.32 497.35M962.07 497.34L963.28 497.33M964.12 497.33L965.33 497.31M966.07 497.30L967.29 497.27M968.13 497.25L969.34 497.22M970.08 497.19L971.29 497.15M972.13 497.12L973.35 497.08M974.09 497.04L975.30 496.98M976.14 496.94L977.26 496.89M978.10 496.84L979.31 496.76M980.06 496.72L981.27 496.64M982.11 496.58L983.32 496.49M984.07 496.43L985.28 496.34M986.12 496.27L987.33 496.16M988.07 496.09L989.29 495.98M990.13 495.90L991.34 495.78M992.08 495.70L993.29 495.58M994.13 495.49L995.35 495.34M996.09 495.26L997.30 495.11M998.14 495.02L999.26 494.87M1000.10 494.76L1001.31 494.60M1002.06 494.50L1003.27 494.33M1004.11 494.21L1005.32 494.03M1006.07 493.92L1007.28 493.73M1008.12 493.60L1009.33 493.40M1010.07 493.29L1011.29 493.08M1012.13 492.94L1013.34 492.73M1014.08 492.60L1015.29 492.38M1016.13 492.22L1017.35 491.99M1018.09 491.85L1019.30 491.62M1020.14 491.45L1021.26 491.22M1022.10 491.05L1023.31 490.81M1024.06 490.65L1025.27 490.38M1026.11 490.20L1027.32 489.94" style="stroke:#111;stroke-width:1.45;fill:none"/>
<path d="M780.10 519.10L781.31 519.04M782.06 519.01L783.27 518.96M784.11 518.92L785.32 518.87M786.07 518.83L787.28 518.78M788.12 518.74L789.33 518.68M790.07 518.65L791.29 518.59M792.13 518.55L793.34 518.49M794.08 518.46L795.29 518.40M796.13 518.36L797.35 518.30M798.09 518.26L799.30 518.20M800.14 518.15L801.26 518.10M802.10 518.05L803.31 517.99M804.06 517.95L805.27 517.89M806.11 517.84L807.32 517.78M808.07 517.74L809.28 517.67M810.12 517.62L811.33 517.56M812.07 517.51L813.29 517.45M814.13 517.40L815.34 517.33M816.08 517.28L817.29 517.21M818.13 517.16L819.35 517.09M820.09 517.05L821.30 516.97M822.14 516.92L823.26 516.85M824.10 516.80L825.31 516.73M826.06 516.68L827.27 516.60M828.11 516.55L829.32 516.47M830.07 516.42L831.28 516.34M832.12 516.29L833.33 516.21M834.07 516.16L835.29 516.08M836.13 516.02L837.34 515.94M838.08 515.88L839.29 515.80M840.13 515.74L841.35 515.66M842.09 515.60L843.30 515.52M844.14 515.45L845.26 515.37M846.10 515.31L847.31 515.22M848.06 515.17L849.27 515.07M850.11 515.01L851.32 514.92M852.07 514.86L853.28 514.77M854.12 514.70L855.33 514.61M856.07 514.55L857.29 514.45M858.13 514.38L859.34 514.29M860.08 514.22L861.29 514.12M862.13 514.05L863.35 513.95M864.09 513.89L865.30 513.79M866.14 513.72L867.26 513.62M868.10 513.55L869.31 513.44M870.06 513.38L871.27 513.27M872.11 513.20L873.32 513.09M874.07 513.02L875.28 512.91M876.12 512.83L877.33 512.72M878.07 512.65L879.29 512.54M880.13 512.46L881.34 512.35M882.08 512.27L883.29 512.16M884.13 512.08L885.35 511.96M886.09 511.89L887.30 511.77M888.14 511.68L889.26 511.57M890.10 511.49L891.31 511.36M892.06 511.29L893.27 511.16M894.11 511.08L895.32 510.95M896.07 510.87L897.28 510.74M898.12 510.65L899.33 510.52M900.07 510.44L901.29 510.31M902.13 510.22L903.34 510.09M904.08 510.00L905.29 509.87M906.13 509.78L907.35 509.64M908.09 509.55L909.30 509.42M910.14 509.32L911.26 509.19M912.10 509.09L913.31 508.95M914.06 508.86L915.27 508.72M916.11 508.62L917.32 508.47M918.07 508.38L919.28 508.23M920.12 508.13L921.33 507.98M922.07 507.89L923.29 507.74M924.13 507.63L925.34 507.48M926.08 507.38L927.29 507.23M928.13 507.12L929.35 506.96M930.09 506.87L931.30 506.71M932.14 506.60L933.26 506.45M934.10 506.34L935.31 506.17M936.06 506.07L937.27 505.91M938.11 505.79L939.32 505.63M940.07 505.52L941.28 505.35M942.12 505.23L943.33 505.07M944.07 504.96L945.29 504.79M946.13 504.66L947.34 504.49M948.08 504.38L949.29 504.20M950.13 504.08L951.35 503.90M952.09 503.79L953.30 503.61M954.14 503.48L955.26 503.32M956.10 503.19L957.31 503.00M958.06 502.89L959.27 502.70M960.11 502.57L961.32 502.38M962.07 502.26L963.28 502.07M964.12 501.94L965.33 501.74M966.07 501.62L967.29 501.43M968.13 501.29L969.34 501.09M970.08 500.97L971.29 500.77M972.13 500.63L973.35 500.43M974.09 500.30L975.30 500.10M976.14 499.95L977.26 499.76M978.10 499.62L979.31 499.41M980.06 499.28L981.27 499.07M982.11 498.92L983.32 498.70M984.07 498.57L985.28 498.36M986.12 498.21L987.33 497.99M988.07 497.85L989.29 497.63M990.13 497.48L991.34 497.25M992.08 497.11L993.29 496.89M994.13 496.73L995.35 496.50M996.09 496.36L997.30 496.13M998.14 495.97L999.26 495.76M1000.10 495.59L1001.31 495.36M1002.06 495.22L1003.27 494.98M1004.11 494.81L1005.32 494.57M1006.07 494.42L1007.28 494.18M1008.12 494.01L1009.33 493.77M1010.07 493.62L1011.29 493.37M1012.13 493.19L1013.34 492.94M1014.08 492.79L1015.29 492.54M1016.13 492.36L1017.35 492.11M1018.09 491.95L1019.30 491.69M1020.14 491.51L1021.26 491.27M1022.10 491.09L1023.31 490.83M1024.06 490.67L1025.27 490.40M1026.11 490.21L1027.32 489.95" style="stroke:#111;stroke-width:1.45;fill:none"/>
<path d="M780.10 474.99L784.29 478.06L788.49 481.08L792.68 484.04L796.88 486.94L801.07 489.78L805.27 492.56L809.46 495.28L813.66 497.94L817.85 500.53L822.05 503.07L826.24 505.53L830.44 507.94L834.63 510.28L838.83 512.55L843.02 514.76L847.22 516.90L851.41 518.97L855.61 520.97L859.80 522.91L864.00 524.77L868.19 526.56L872.39 528.29L876.58 529.94L880.78 531.51L884.97 533.02L889.17 534.45L893.36 535.80L897.56 537.08L901.75 538.29L905.95 539.41L910.14 540.46L914.34 541.44L918.53 542.33L922.73 543.14L926.92 543.87L931.12 544.52L935.31 545.09L939.51 545.58L943.70 545.99L947.90 546.31L952.09 546.55L956.29 546.70L960.48 546.76L964.68 546.74L968.87 546.63L973.07 546.44L977.26 546.16L981.46 545.78L985.65 545.32L989.85 544.77L994.04 544.12L998.24 543.38L1002.43 542.55L1006.63 541.63L1010.82 540.62L1015.02 539.50L1019.21 538.30L1023.41 536.99L1027.60 535.59" style="stroke:#bababa;stroke-width:1.3;fill:none"/>
<path d="M780.10 578.30L784.29 578.06L788.49 577.81L792.68 577.55L796.88 577.28L801.07 576.99L805.27 576.68L809.46 576.37L813.66 576.03L817.85 575.69L822.05 575.33L826.24 574.95L830.44 574.56L834.63 574.16L838.83 573.74L843.02 573.30L847.22 572.85L851.41 572.39L855.61 571.90L859.80 571.40L864.00 570.89L868.19 570.35L872.39 569.80L876.58 569.23L880.78 568.65L884.97 568.05L889.17 567.43L893.36 566.79L897.56 566.13L901.75 565.46L905.95 564.76L910.14 564.05L914.34 563.32L918.53 562.57L922.73 561.80L926.92 561.01L931.12 560.20L935.31 559.37L939.51 558.52L943.70 557.65L947.90 556.76L952.09 555.84L956.29 554.91L960.48 553.96L964.68 552.98L968.87 551.98L973.07 550.96L977.26 549.92L981.46 548.85L985.65 547.77L989.85 546.66L994.04 545.52L998.24 544.37L1002.43 543.19L1006.63 541.99L1010.82 540.76L1015.02 539.51L1019.21 538.23L1023.41 536.93L1027.60 535.61" style="stroke:#bababa;stroke-width:1.3;fill:none"/>
<path d="M780.10 499.22L781.47 500.73M782.60 501.98L783.97 503.49M785.18 504.80L786.63 506.36M787.84 507.66L789.22 509.11M790.43 510.38L791.88 511.90M793.12 513.19L794.61 514.71M795.92 516.05L797.40 517.55M798.63 518.77L800.20 520.33M801.51 521.62L803.00 523.05M804.31 524.32L805.79 525.74M807.10 526.98L808.59 528.37M809.90 529.59L811.39 530.95M812.70 532.14L814.18 533.48M815.49 534.65L816.98 535.96M818.29 537.11L819.78 538.39M821.09 539.51L822.53 540.74M823.86 541.85L825.39 543.12M826.63 544.14L828.15 545.37M829.49 546.44L831.01 547.65M832.25 548.62L833.78 549.81M835.11 550.84L836.54 551.91M837.88 552.92L839.40 554.05M840.64 554.95L842.17 556.06M843.50 557.01L844.93 558.01M846.27 558.95L847.79 560.00M849.03 560.83L850.56 561.86M851.83 562.71L853.34 563.69M854.69 564.56L856.20 565.52M857.45 566.30L858.96 567.24M860.31 568.06L861.73 568.90M863.08 569.70L864.59 570.59M865.84 571.30L867.35 572.16M868.70 572.91L870.21 573.73M871.47 574.41L872.98 575.22M874.23 575.87L875.74 576.65M877.09 577.33L878.60 578.07M879.86 578.69L881.37 579.41M882.71 580.04L884.13 580.70M885.48 581.31L886.99 581.97M888.24 582.53L889.76 583.17M891.10 583.73L892.61 584.35M893.83 584.85L895.41 585.46M896.63 585.93L898.21 586.53M899.52 587.00L901.01 587.54M902.31 588.00L903.80 588.50M905.11 588.94L906.60 589.43M907.91 589.83L909.40 590.29M910.70 590.69L912.19 591.11M913.50 591.48L914.99 591.89M916.29 592.23L917.79 592.62M919.09 592.94L920.58 593.29M921.89 593.60L923.38 593.93M924.68 594.20L926.18 594.51M927.48 594.77L928.97 595.04M930.28 595.28L931.77 595.54M933.07 595.74L934.57 595.98M935.87 596.17L937.36 596.36M938.67 596.53L940.16 596.71M941.46 596.85L942.96 597.01M944.26 597.13L945.75 597.25M947.06 597.35L948.55 597.46M949.85 597.53L951.35 597.61M952.65 597.66L954.14 597.71M955.45 597.74L956.94 597.77M958.24 597.77L959.74 597.78M961.04 597.76L962.53 597.73M963.84 597.70L965.33 597.65M966.63 597.58L968.13 597.51M969.43 597.43L971.02 597.31M972.23 597.22L973.81 597.08M975.12 596.95L976.61 596.80M977.91 596.65L979.41 596.47M980.71 596.30L982.20 596.09M983.51 595.89L985.00 595.67M986.30 595.45L987.79 595.19M989.10 594.95L990.59 594.67M991.90 594.40L993.39 594.10M994.69 593.81L996.18 593.47M997.49 593.17L998.98 592.81M1000.29 592.47L1001.78 592.09M1003.08 591.74L1004.57 591.32M1005.88 590.95L1007.37 590.51M1008.68 590.11L1010.17 589.65M1011.47 589.24L1012.96 588.74M1014.27 588.30L1015.76 587.79M1017.07 587.32L1018.56 586.78M1019.86 586.29L1021.35 585.72M1022.66 585.22L1024.16 584.62M1025.50 584.06L1027.01 583.44" style="stroke:#111;stroke-width:1.55;fill:none"/>
<path d="M780.10 640.40L781.59 640.31M782.90 640.23L784.39 640.14M785.69 640.05L787.18 639.95M788.49 639.86L789.98 639.75M791.29 639.66L792.78 639.55M794.08 639.45L795.57 639.34M796.88 639.23L798.37 639.11M799.68 639.01L801.17 638.88M802.47 638.77L803.96 638.64M805.27 638.53L806.76 638.39M808.07 638.27L809.56 638.13M810.86 638.00L812.35 637.86M813.66 637.73L815.24 637.57M816.46 637.44L818.04 637.28M819.35 637.14L820.84 636.98M822.14 636.84L823.63 636.67M824.94 636.52L826.43 636.35M827.74 636.20L829.23 636.02M830.53 635.86L832.02 635.68M833.33 635.52L834.82 635.33M836.13 635.16L837.62 634.97M838.92 634.80L840.41 634.60M841.72 634.42L843.21 634.22M844.52 634.04L846.01 633.83M847.31 633.65L848.80 633.43M850.11 633.24L851.60 633.02M852.91 632.82L854.40 632.59M855.70 632.39L857.19 632.16M858.50 631.95L859.99 631.72M861.29 631.51L862.79 631.26M864.09 631.05L865.58 630.80M866.89 630.58L868.38 630.32M869.68 630.09L871.18 629.83M872.48 629.60L873.97 629.33M875.28 629.10L876.77 628.83M878.07 628.58L879.57 628.30M880.87 628.06L882.36 627.77M883.67 627.52L885.16 627.23M886.46 626.97L887.96 626.68M889.26 626.42L890.85 626.09M892.06 625.84L893.64 625.52M894.85 625.26L896.44 624.92M897.74 624.65L899.24 624.32M900.54 624.04L902.03 623.71M903.34 623.42L904.83 623.09M906.13 622.79L907.63 622.45M908.93 622.15L910.42 621.81M911.73 621.50L913.22 621.15M914.52 620.84L916.02 620.47M917.32 620.16L918.81 619.79M920.12 619.47L921.61 619.10M922.91 618.77L924.41 618.39M925.71 618.05L927.20 617.67M928.51 617.33L930.00 616.94M931.30 616.59L932.79 616.19M934.10 615.84L935.59 615.44M936.90 615.08L938.39 614.67M939.69 614.30L941.18 613.88M942.49 613.51L943.98 613.09M945.29 612.71L946.78 612.28M948.08 611.90L949.57 611.46M950.88 611.08L952.37 610.63M953.68 610.24L955.17 609.78M956.47 609.39L957.96 608.93M959.27 608.52L960.76 608.06M962.07 607.64L963.56 607.17M964.86 606.76L966.35 606.27M967.66 605.85L969.24 605.33M970.46 604.93L972.04 604.41M973.35 603.97L974.84 603.47M976.14 603.03L977.63 602.52M978.94 602.07L980.43 601.56M981.74 601.10L983.23 600.58M984.53 600.12L986.02 599.59M987.33 599.12L988.82 598.58M990.13 598.11L991.62 597.56M992.92 597.08L994.41 596.53M995.72 596.05L997.21 595.49M998.52 595.00L1000.01 594.43M1001.31 593.93L1002.77 593.37M1004.11 592.85L1005.62 592.26M1006.88 591.77L1008.39 591.17M1009.73 590.63L1011.24 590.03M1012.50 589.52L1014.01 588.91M1015.27 588.40L1016.78 587.78M1018.12 587.23L1019.63 586.60M1020.89 586.07L1022.40 585.44M1023.74 584.87L1025.17 584.26M1026.51 583.69L1027.60 583.22" style="stroke:#111;stroke-width:1.55;fill:none"/>
<rect x="752.2" y="397.3" width="275.4" height="277.9" fill="none" stroke="#242424" stroke-width="1.6"/>
<text transform="translate(752.2,699.7) scale(1,1.090)" font-size="19" text-anchor="middle">0</text>
<text transform="translate(821.0,699.7) scale(1,1.090)" font-size="19" text-anchor="middle">0.1</text>
<text transform="translate(889.9,699.7) scale(1,1.090)" font-size="19" text-anchor="middle">0.2</text>
<text transform="translate(958.7,699.7) scale(1,1.090)" font-size="19" text-anchor="middle">0.3</text>
<text transform="translate(1027.6,699.7) scale(1,1.090)" font-size="19" text-anchor="middle">0.4</text>
<text transform="translate(744.9,404.3) scale(1,1.090)" font-size="19" text-anchor="end">0</text>
<text transform="translate(744.9,450.6) scale(1,1.090)" font-size="19" text-anchor="end">-1</text>
<text transform="translate(744.9,496.9) scale(1,1.090)" font-size="19" text-anchor="end">-2</text>
<text transform="translate(744.9,543.2) scale(1,1.090)" font-size="19" text-anchor="end">-3</text>
<text transform="translate(744.9,589.6) scale(1,1.090)" font-size="19" text-anchor="end">-4</text>
<text transform="translate(744.9,635.9) scale(1,1.090)" font-size="19" text-anchor="end">-5</text>
<text transform="translate(744.9,682.2) scale(1,1.090)" font-size="19" text-anchor="end">-6</text>
<path d="M752.2 675.2v-2.6M752.2 397.3v2.6M821.0 675.2v-2.6M821.0 397.3v2.6M889.9 675.2v-2.6M889.9 397.3v2.6M958.7 675.2v-2.6M958.7 397.3v2.6M1027.6 675.2v-2.6M1027.6 397.3v2.6M752.2 397.3h2.6M1027.6 397.3h-2.6M752.2 443.6h2.6M1027.6 443.6h-2.6M752.2 489.9h2.6M1027.6 489.9h-2.6M752.2 536.2h2.6M1027.6 536.2h-2.6M752.2 582.6h2.6M1027.6 582.6h-2.6M752.2 628.9h2.6M1027.6 628.9h-2.6M752.2 675.2h2.6M1027.6 675.2h-2.6" stroke="#1c1c1c" stroke-width="1.4" fill="none"/>
<text transform="translate(710.6,731.0) scale(1,1.035)" font-size="27.1" font-weight="bold">(f)</text>
<text transform="translate(557.0,769) scale(1,1.02)" font-size="25" text-anchor="middle">Pixel size (mm)</text>
<text transform="translate(26.5,163.4) rotate(-90) scale(1,1.07)" font-size="24.8" text-anchor="middle">Sig. mag. change (%)</text>
<text transform="translate(16.8,536.6) rotate(-90) scale(1,1.07)" font-size="24.8" text-anchor="middle">Sig. phase change (degree)</text>
<path d="M545.2 556.0H618.7" style="stroke:#111;stroke-width:1.4;fill:none"/>
<text transform="translate(626.2,562.5) scale(1,1.07)" font-size="19.6">3 T</text>
<path d="M545.90 586.60L547.10 586.60M547.90 586.60L549.09 586.60M549.89 586.60L551.09 586.60M551.89 586.60L553.09 586.60M553.89 586.60L555.09 586.60M555.89 586.60L557.08 586.60M557.88 586.60L559.08 586.60M559.88 586.60L561.08 586.60M561.88 586.60L563.08 586.60M563.87 586.60L565.07 586.60M565.87 586.60L567.07 586.60M567.87 586.60L569.07 586.60M569.87 586.60L571.06 586.60M571.86 586.60L573.06 586.60M573.86 586.60L575.06 586.60M575.86 586.60L577.06 586.60M577.86 586.60L579.05 586.60M579.85 586.60L581.05 586.60M581.85 586.60L583.15 586.60M583.95 586.60L585.15 586.60M585.94 586.60L587.14 586.60M587.94 586.60L589.14 586.60M589.94 586.60L591.14 586.60M591.94 586.60L593.13 586.60M593.93 586.60L595.13 586.60M595.93 586.60L597.13 586.60M597.93 586.60L599.13 586.60M599.93 586.60L601.12 586.60M601.92 586.60L603.12 586.60M603.92 586.60L605.12 586.60M605.92 586.60L607.12 586.60M607.91 586.60L609.11 586.60M609.91 586.60L611.11 586.60M611.91 586.60L613.11 586.60M613.91 586.60L615.10 586.60M615.90 586.60L617.10 586.60M617.90 586.60L618.70 586.60" style="stroke:#111;stroke-width:1.45;fill:none"/>
<text transform="translate(626.2,593.1) scale(1,1.07)" font-size="19.6">4.7 T</text>
<path d="M545.2 617.1H618.7" style="stroke:#bababa;stroke-width:1.3;fill:none"/>
<text transform="translate(626.2,623.6) scale(1,1.07)" font-size="19.6">7 T</text>
<path d="M545.20 647.90L546.50 647.90M547.80 647.90L549.29 647.90M550.59 647.90L552.09 647.90M553.39 647.90L554.89 647.90M556.19 647.90L557.68 647.90M558.98 647.90L560.48 647.90M561.78 647.90L563.28 647.90M564.57 647.90L566.07 647.90M567.37 647.90L568.87 647.90M570.17 647.90L571.66 647.90M572.96 647.90L574.46 647.90M575.76 647.90L577.26 647.90M578.55 647.90L580.05 647.90M581.35 647.90L582.95 647.90M584.25 647.90L585.74 647.90M587.04 647.90L588.54 647.90M589.84 647.90L591.34 647.90M592.64 647.90L594.13 647.90M595.43 647.90L596.93 647.90M598.23 647.90L599.73 647.90M601.02 647.90L602.52 647.90M603.82 647.90L605.32 647.90M606.62 647.90L608.11 647.90M609.41 647.90L610.91 647.90M612.21 647.90L613.71 647.90M615.01 647.90L616.50 647.90M617.80 647.90L618.70 647.90" style="stroke:#111;stroke-width:1.55;fill:none"/>
<text transform="translate(626.2,654.4) scale(1,1.07)" font-size="19.6">9.4 T</text>
</svg></body></html>
